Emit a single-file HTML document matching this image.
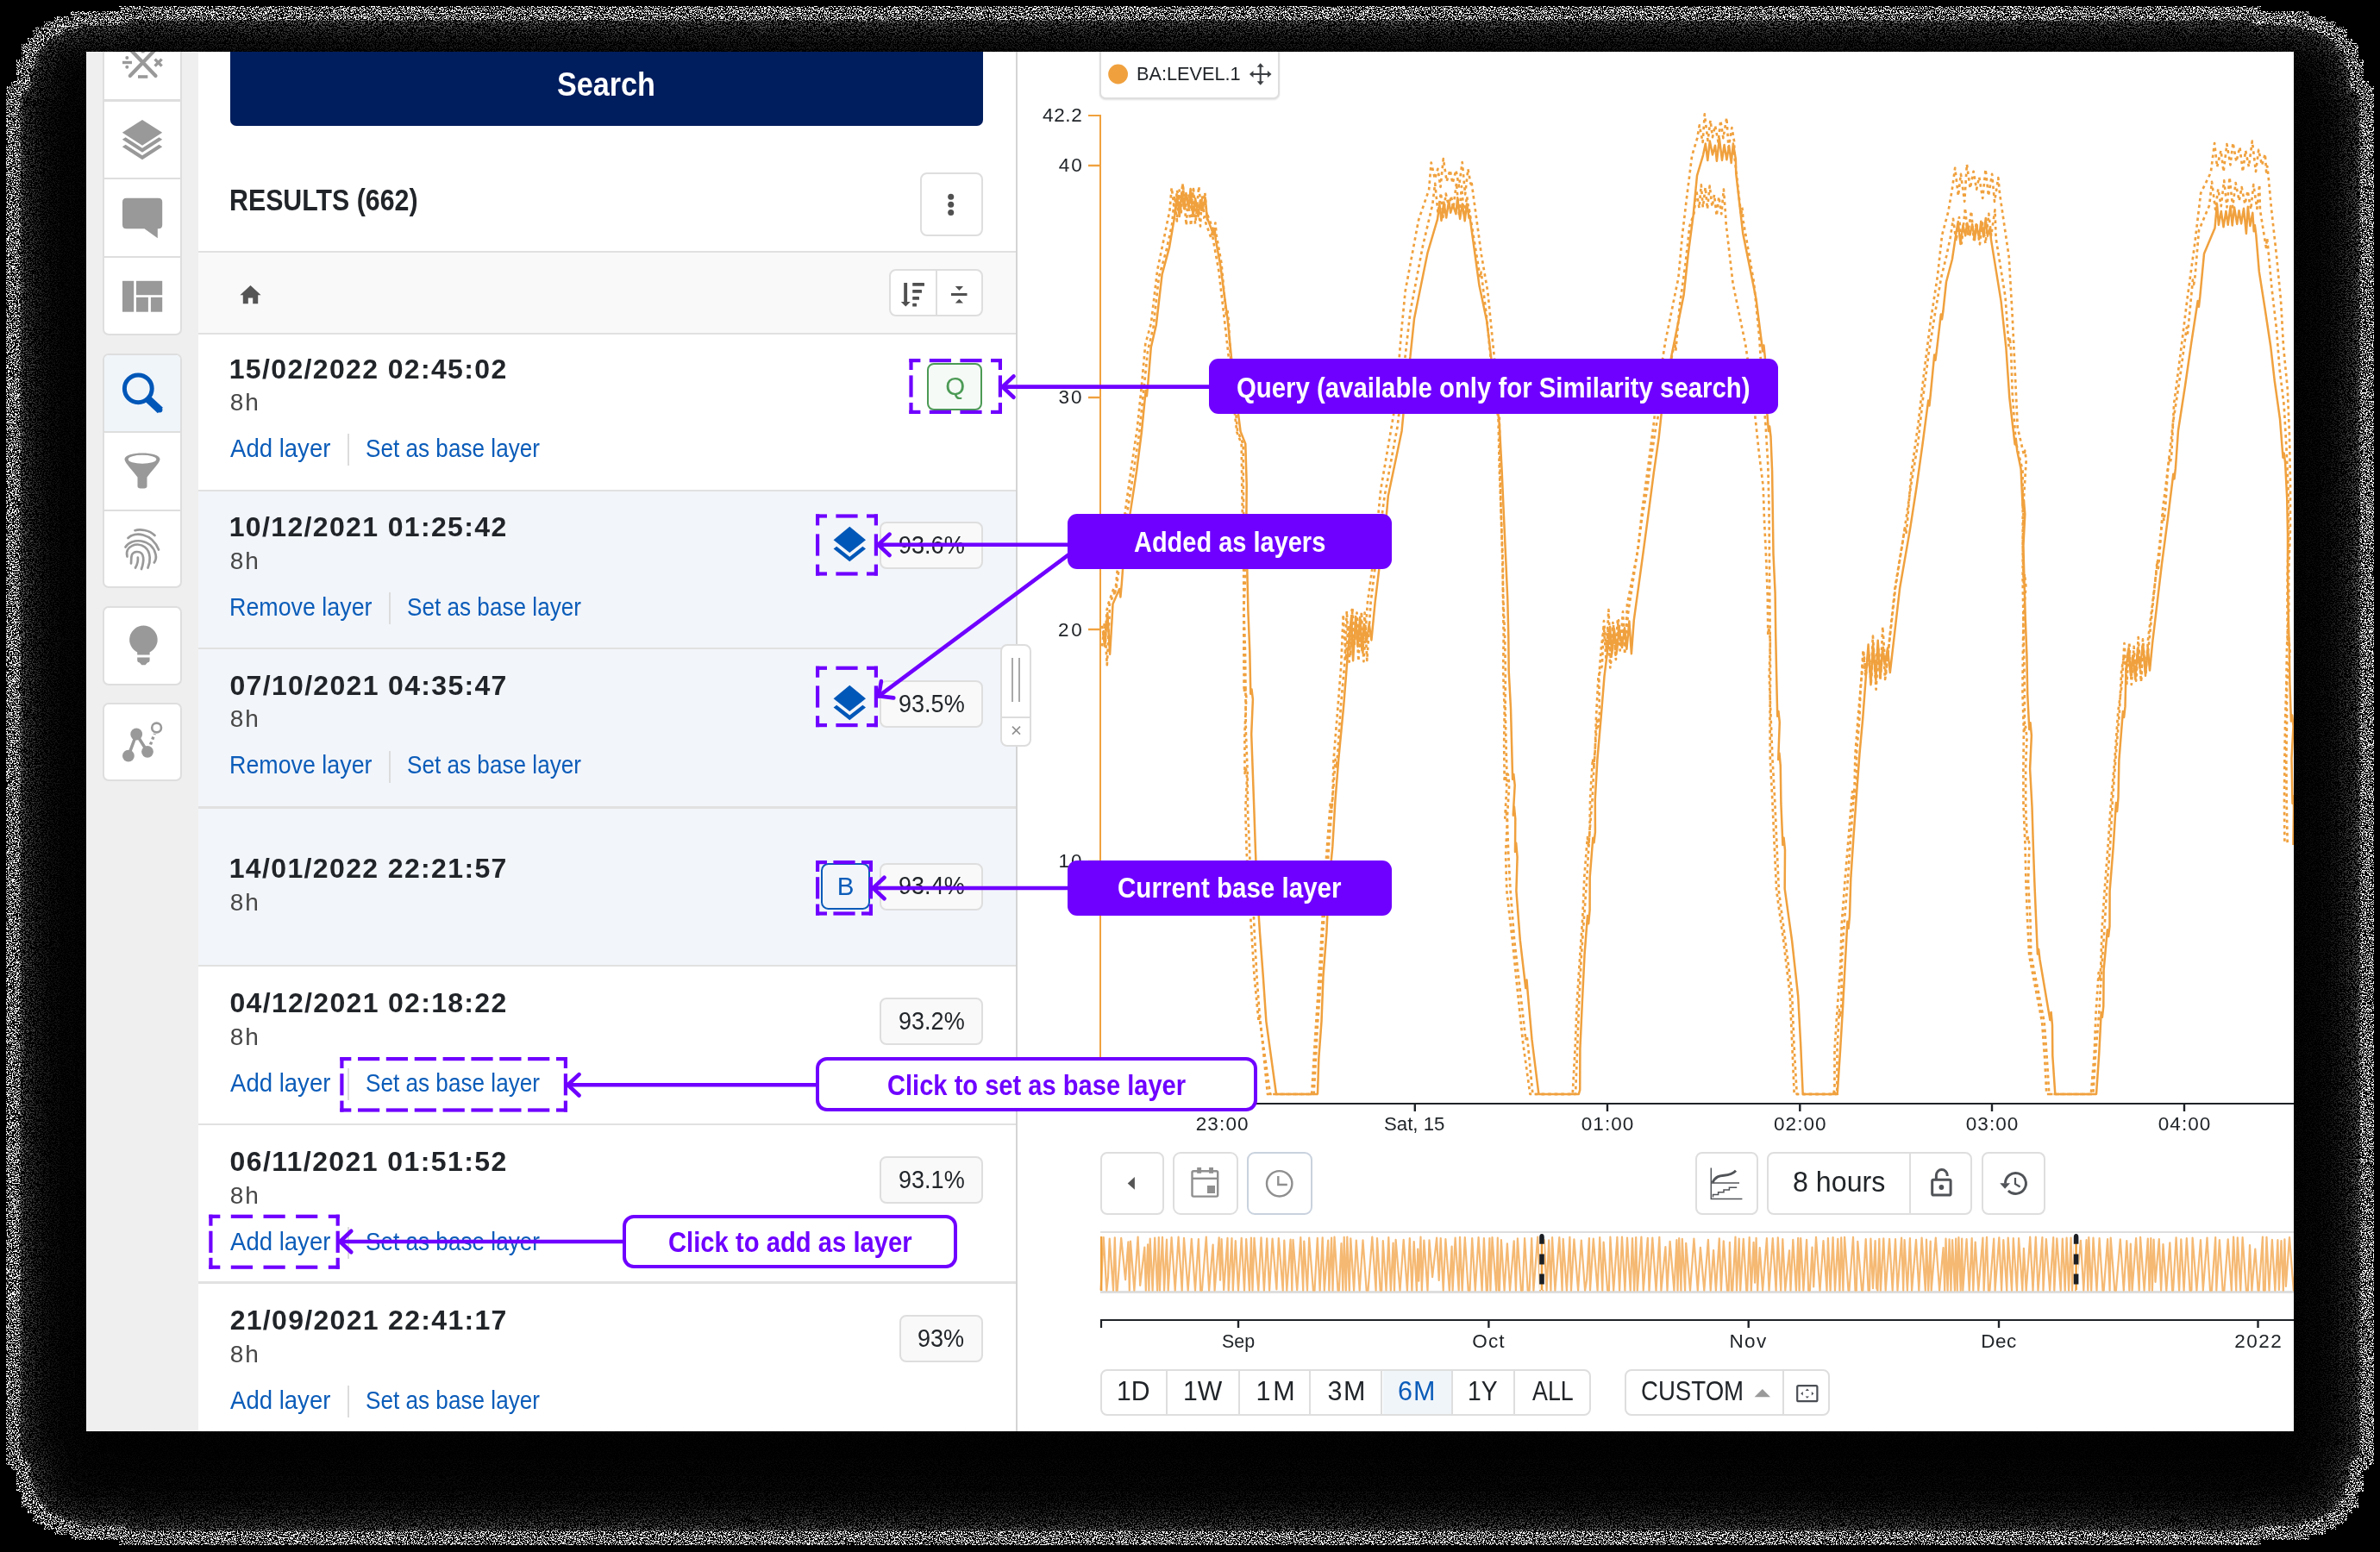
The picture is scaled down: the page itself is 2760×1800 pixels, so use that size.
<!DOCTYPE html>
<html><head><meta charset="utf-8"><title>Search results layers</title>
<style>
html,body{margin:0;padding:0;background:#000;}
body{width:2760px;height:1800px;overflow:hidden;position:relative;font-family:"Liberation Sans",sans-serif;}
#shot{position:absolute;left:100px;top:60px;width:2560px;height:1600px;overflow:hidden;background:#fff;}
#in{position:absolute;left:-100px;top:-60px;width:2760px;height:1800px;will-change:transform;}
.t{position:absolute;white-space:nowrap;line-height:1;font-family:"Liberation Sans",sans-serif;}
.b{position:absolute;box-sizing:content-box;}
svg{position:absolute;left:0;top:0;overflow:visible;}
</style></head><body>
<svg width="2760" height="1800" viewBox="0 0 2760 1800">
<defs>
<clipPath id="sc"><path d="M7 100 L13 100 L13 94 L19 94 L19 69 L25 69 L25 50 L32 50 L32 44 L38 44 L38 34 L41 34 L41 31 L51 31 L51 25 L63 25 L63 19 L82 19 L82 13 L138 13 L138 7 L2622 7 L2622 13 L2678 13 L2678 19 L2697 19 L2697 25 L2709 25 L2709 31 L2719 31 L2719 34 L2722 34 L2722 44 L2728 44 L2728 50 L2735 50 L2735 69 L2741 69 L2741 94 L2747 94 L2747 100 L2753 100 L2753 1699 L2747 1699 L2747 1705 L2741 1705 L2741 1730 L2735 1730 L2735 1749 L2728 1749 L2728 1755 L2722 1755 L2722 1765 L2719 1765 L2719 1768 L2709 1768 L2709 1774 L2697 1774 L2697 1780 L2678 1780 L2678 1786 L2622 1786 L2622 1792 L138 1792 L138 1786 L82 1786 L82 1780 L63 1780 L63 1774 L51 1774 L51 1768 L41 1768 L41 1765 L38 1765 L38 1755 L32 1755 L32 1749 L25 1749 L25 1730 L19 1730 L19 1705 L13 1705 L13 1699 L7 1699 Z"/></clipPath>
<filter id="nz" x="0" y="0" width="2760" height="1800" filterUnits="userSpaceOnUse" color-interpolation-filters="sRGB">
<feTurbulence type="fractalNoise" baseFrequency="0.618 0.72" numOctaves="3" seed="7" result="t"/>
<feColorMatrix in="t" type="matrix" values="0 0 0 0 1  0 0 0 0 1  0 0 0 0 1  40 0 0 0 -21.1" result="m"/>
<feComposite in="SourceGraphic" in2="m" operator="in"/>
</filter>
</defs>
<g filter="url(#nz)"><g clip-path="url(#sc)"><path d="M7 100 L13 100 L13 94 L19 94 L19 69 L25 69 L25 50 L32 50 L32 44 L38 44 L38 34 L41 34 L41 31 L51 31 L51 25 L63 25 L63 19 L82 19 L82 13 L138 13 L138 7 L2622 7 L2622 13 L2678 13 L2678 19 L2697 19 L2697 25 L2709 25 L2709 31 L2719 31 L2719 34 L2722 34 L2722 44 L2728 44 L2728 50 L2735 50 L2735 69 L2741 69 L2741 94 L2747 94 L2747 100 L2753 100 L2753 1699 L2747 1699 L2747 1705 L2741 1705 L2741 1730 L2735 1730 L2735 1749 L2728 1749 L2728 1755 L2722 1755 L2722 1765 L2719 1765 L2719 1768 L2709 1768 L2709 1774 L2697 1774 L2697 1780 L2678 1780 L2678 1786 L2622 1786 L2622 1792 L138 1792 L138 1786 L82 1786 L82 1780 L63 1780 L63 1774 L51 1774 L51 1768 L41 1768 L41 1765 L38 1765 L38 1755 L32 1755 L32 1749 L25 1749 L25 1730 L19 1730 L19 1705 L13 1705 L13 1699 L7 1699 Z" fill="rgb(4,4,4)"/><path d="M7 100 L13 100 L13 94 L19 94 L19 69 L25 69 L25 50 L32 50 L32 44 L38 44 L38 34 L41 34 L41 31 L51 31 L51 25 L63 25 L63 19 L82 19 L82 13 L138 13 L138 7 L2622 7 L2622 13 L2678 13 L2678 19 L2697 19 L2697 25 L2709 25 L2709 31 L2719 31 L2719 34 L2722 34 L2722 44 L2728 44 L2728 50 L2735 50 L2735 69 L2741 69 L2741 94 L2747 94 L2747 100 L2753 100 L2753 1699 L2747 1699 L2747 1705 L2741 1705 L2741 1730 L2735 1730 L2735 1749 L2728 1749 L2728 1755 L2722 1755 L2722 1765 L2719 1765 L2719 1768 L2709 1768 L2709 1774 L2697 1774 L2697 1780 L2678 1780 L2678 1786 L2622 1786 L2622 1792 L138 1792 L138 1786 L82 1786 L82 1780 L63 1780 L63 1774 L51 1774 L51 1768 L41 1768 L41 1765 L38 1765 L38 1755 L32 1755 L32 1749 L25 1749 L25 1730 L19 1730 L19 1705 L13 1705 L13 1699 L7 1699 Z" fill="none" stroke="rgb(4,4,4)" stroke-width="280" stroke-linejoin="round"/><path d="M7 100 L13 100 L13 94 L19 94 L19 69 L25 69 L25 50 L32 50 L32 44 L38 44 L38 34 L41 34 L41 31 L51 31 L51 25 L63 25 L63 19 L82 19 L82 13 L138 13 L138 7 L2622 7 L2622 13 L2678 13 L2678 19 L2697 19 L2697 25 L2709 25 L2709 31 L2719 31 L2719 34 L2722 34 L2722 44 L2728 44 L2728 50 L2735 50 L2735 69 L2741 69 L2741 94 L2747 94 L2747 100 L2753 100 L2753 1699 L2747 1699 L2747 1705 L2741 1705 L2741 1730 L2735 1730 L2735 1749 L2728 1749 L2728 1755 L2722 1755 L2722 1765 L2719 1765 L2719 1768 L2709 1768 L2709 1774 L2697 1774 L2697 1780 L2678 1780 L2678 1786 L2622 1786 L2622 1792 L138 1792 L138 1786 L82 1786 L82 1780 L63 1780 L63 1774 L51 1774 L51 1768 L41 1768 L41 1765 L38 1765 L38 1755 L32 1755 L32 1749 L25 1749 L25 1730 L19 1730 L19 1705 L13 1705 L13 1699 L7 1699 Z" fill="none" stroke="rgb(7,7,7)" stroke-width="200" stroke-linejoin="round"/><path d="M7 100 L13 100 L13 94 L19 94 L19 69 L25 69 L25 50 L32 50 L32 44 L38 44 L38 34 L41 34 L41 31 L51 31 L51 25 L63 25 L63 19 L82 19 L82 13 L138 13 L138 7 L2622 7 L2622 13 L2678 13 L2678 19 L2697 19 L2697 25 L2709 25 L2709 31 L2719 31 L2719 34 L2722 34 L2722 44 L2728 44 L2728 50 L2735 50 L2735 69 L2741 69 L2741 94 L2747 94 L2747 100 L2753 100 L2753 1699 L2747 1699 L2747 1705 L2741 1705 L2741 1730 L2735 1730 L2735 1749 L2728 1749 L2728 1755 L2722 1755 L2722 1765 L2719 1765 L2719 1768 L2709 1768 L2709 1774 L2697 1774 L2697 1780 L2678 1780 L2678 1786 L2622 1786 L2622 1792 L138 1792 L138 1786 L82 1786 L82 1780 L63 1780 L63 1774 L51 1774 L51 1768 L41 1768 L41 1765 L38 1765 L38 1755 L32 1755 L32 1749 L25 1749 L25 1730 L19 1730 L19 1705 L13 1705 L13 1699 L7 1699 Z" fill="none" stroke="rgb(10,10,10)" stroke-width="160" stroke-linejoin="round"/><path d="M7 100 L13 100 L13 94 L19 94 L19 69 L25 69 L25 50 L32 50 L32 44 L38 44 L38 34 L41 34 L41 31 L51 31 L51 25 L63 25 L63 19 L82 19 L82 13 L138 13 L138 7 L2622 7 L2622 13 L2678 13 L2678 19 L2697 19 L2697 25 L2709 25 L2709 31 L2719 31 L2719 34 L2722 34 L2722 44 L2728 44 L2728 50 L2735 50 L2735 69 L2741 69 L2741 94 L2747 94 L2747 100 L2753 100 L2753 1699 L2747 1699 L2747 1705 L2741 1705 L2741 1730 L2735 1730 L2735 1749 L2728 1749 L2728 1755 L2722 1755 L2722 1765 L2719 1765 L2719 1768 L2709 1768 L2709 1774 L2697 1774 L2697 1780 L2678 1780 L2678 1786 L2622 1786 L2622 1792 L138 1792 L138 1786 L82 1786 L82 1780 L63 1780 L63 1774 L51 1774 L51 1768 L41 1768 L41 1765 L38 1765 L38 1755 L32 1755 L32 1749 L25 1749 L25 1730 L19 1730 L19 1705 L13 1705 L13 1699 L7 1699 Z" fill="none" stroke="rgb(17,17,17)" stroke-width="124" stroke-linejoin="round"/><path d="M7 100 L13 100 L13 94 L19 94 L19 69 L25 69 L25 50 L32 50 L32 44 L38 44 L38 34 L41 34 L41 31 L51 31 L51 25 L63 25 L63 19 L82 19 L82 13 L138 13 L138 7 L2622 7 L2622 13 L2678 13 L2678 19 L2697 19 L2697 25 L2709 25 L2709 31 L2719 31 L2719 34 L2722 34 L2722 44 L2728 44 L2728 50 L2735 50 L2735 69 L2741 69 L2741 94 L2747 94 L2747 100 L2753 100 L2753 1699 L2747 1699 L2747 1705 L2741 1705 L2741 1730 L2735 1730 L2735 1749 L2728 1749 L2728 1755 L2722 1755 L2722 1765 L2719 1765 L2719 1768 L2709 1768 L2709 1774 L2697 1774 L2697 1780 L2678 1780 L2678 1786 L2622 1786 L2622 1792 L138 1792 L138 1786 L82 1786 L82 1780 L63 1780 L63 1774 L51 1774 L51 1768 L41 1768 L41 1765 L38 1765 L38 1755 L32 1755 L32 1749 L25 1749 L25 1730 L19 1730 L19 1705 L13 1705 L13 1699 L7 1699 Z" fill="none" stroke="rgb(26,26,26)" stroke-width="100" stroke-linejoin="round"/><path d="M7 100 L13 100 L13 94 L19 94 L19 69 L25 69 L25 50 L32 50 L32 44 L38 44 L38 34 L41 34 L41 31 L51 31 L51 25 L63 25 L63 19 L82 19 L82 13 L138 13 L138 7 L2622 7 L2622 13 L2678 13 L2678 19 L2697 19 L2697 25 L2709 25 L2709 31 L2719 31 L2719 34 L2722 34 L2722 44 L2728 44 L2728 50 L2735 50 L2735 69 L2741 69 L2741 94 L2747 94 L2747 100 L2753 100 L2753 1699 L2747 1699 L2747 1705 L2741 1705 L2741 1730 L2735 1730 L2735 1749 L2728 1749 L2728 1755 L2722 1755 L2722 1765 L2719 1765 L2719 1768 L2709 1768 L2709 1774 L2697 1774 L2697 1780 L2678 1780 L2678 1786 L2622 1786 L2622 1792 L138 1792 L138 1786 L82 1786 L82 1780 L63 1780 L63 1774 L51 1774 L51 1768 L41 1768 L41 1765 L38 1765 L38 1755 L32 1755 L32 1749 L25 1749 L25 1730 L19 1730 L19 1705 L13 1705 L13 1699 L7 1699 Z" fill="none" stroke="rgb(40,40,40)" stroke-width="82" stroke-linejoin="round"/><path d="M7 100 L13 100 L13 94 L19 94 L19 69 L25 69 L25 50 L32 50 L32 44 L38 44 L38 34 L41 34 L41 31 L51 31 L51 25 L63 25 L63 19 L82 19 L82 13 L138 13 L138 7 L2622 7 L2622 13 L2678 13 L2678 19 L2697 19 L2697 25 L2709 25 L2709 31 L2719 31 L2719 34 L2722 34 L2722 44 L2728 44 L2728 50 L2735 50 L2735 69 L2741 69 L2741 94 L2747 94 L2747 100 L2753 100 L2753 1699 L2747 1699 L2747 1705 L2741 1705 L2741 1730 L2735 1730 L2735 1749 L2728 1749 L2728 1755 L2722 1755 L2722 1765 L2719 1765 L2719 1768 L2709 1768 L2709 1774 L2697 1774 L2697 1780 L2678 1780 L2678 1786 L2622 1786 L2622 1792 L138 1792 L138 1786 L82 1786 L82 1780 L63 1780 L63 1774 L51 1774 L51 1768 L41 1768 L41 1765 L38 1765 L38 1755 L32 1755 L32 1749 L25 1749 L25 1730 L19 1730 L19 1705 L13 1705 L13 1699 L7 1699 Z" fill="none" stroke="rgb(56,56,56)" stroke-width="66" stroke-linejoin="round"/><path d="M7 100 L13 100 L13 94 L19 94 L19 69 L25 69 L25 50 L32 50 L32 44 L38 44 L38 34 L41 34 L41 31 L51 31 L51 25 L63 25 L63 19 L82 19 L82 13 L138 13 L138 7 L2622 7 L2622 13 L2678 13 L2678 19 L2697 19 L2697 25 L2709 25 L2709 31 L2719 31 L2719 34 L2722 34 L2722 44 L2728 44 L2728 50 L2735 50 L2735 69 L2741 69 L2741 94 L2747 94 L2747 100 L2753 100 L2753 1699 L2747 1699 L2747 1705 L2741 1705 L2741 1730 L2735 1730 L2735 1749 L2728 1749 L2728 1755 L2722 1755 L2722 1765 L2719 1765 L2719 1768 L2709 1768 L2709 1774 L2697 1774 L2697 1780 L2678 1780 L2678 1786 L2622 1786 L2622 1792 L138 1792 L138 1786 L82 1786 L82 1780 L63 1780 L63 1774 L51 1774 L51 1768 L41 1768 L41 1765 L38 1765 L38 1755 L32 1755 L32 1749 L25 1749 L25 1730 L19 1730 L19 1705 L13 1705 L13 1699 L7 1699 Z" fill="none" stroke="rgb(75,75,75)" stroke-width="52" stroke-linejoin="round"/><path d="M7 100 L13 100 L13 94 L19 94 L19 69 L25 69 L25 50 L32 50 L32 44 L38 44 L38 34 L41 34 L41 31 L51 31 L51 25 L63 25 L63 19 L82 19 L82 13 L138 13 L138 7 L2622 7 L2622 13 L2678 13 L2678 19 L2697 19 L2697 25 L2709 25 L2709 31 L2719 31 L2719 34 L2722 34 L2722 44 L2728 44 L2728 50 L2735 50 L2735 69 L2741 69 L2741 94 L2747 94 L2747 100 L2753 100 L2753 1699 L2747 1699 L2747 1705 L2741 1705 L2741 1730 L2735 1730 L2735 1749 L2728 1749 L2728 1755 L2722 1755 L2722 1765 L2719 1765 L2719 1768 L2709 1768 L2709 1774 L2697 1774 L2697 1780 L2678 1780 L2678 1786 L2622 1786 L2622 1792 L138 1792 L138 1786 L82 1786 L82 1780 L63 1780 L63 1774 L51 1774 L51 1768 L41 1768 L41 1765 L38 1765 L38 1755 L32 1755 L32 1749 L25 1749 L25 1730 L19 1730 L19 1705 L13 1705 L13 1699 L7 1699 Z" fill="none" stroke="rgb(95,95,95)" stroke-width="42" stroke-linejoin="round"/><path d="M7 100 L13 100 L13 94 L19 94 L19 69 L25 69 L25 50 L32 50 L32 44 L38 44 L38 34 L41 34 L41 31 L51 31 L51 25 L63 25 L63 19 L82 19 L82 13 L138 13 L138 7 L2622 7 L2622 13 L2678 13 L2678 19 L2697 19 L2697 25 L2709 25 L2709 31 L2719 31 L2719 34 L2722 34 L2722 44 L2728 44 L2728 50 L2735 50 L2735 69 L2741 69 L2741 94 L2747 94 L2747 100 L2753 100 L2753 1699 L2747 1699 L2747 1705 L2741 1705 L2741 1730 L2735 1730 L2735 1749 L2728 1749 L2728 1755 L2722 1755 L2722 1765 L2719 1765 L2719 1768 L2709 1768 L2709 1774 L2697 1774 L2697 1780 L2678 1780 L2678 1786 L2622 1786 L2622 1792 L138 1792 L138 1786 L82 1786 L82 1780 L63 1780 L63 1774 L51 1774 L51 1768 L41 1768 L41 1765 L38 1765 L38 1755 L32 1755 L32 1749 L25 1749 L25 1730 L19 1730 L19 1705 L13 1705 L13 1699 L7 1699 Z" fill="none" stroke="rgb(150,150,150)" stroke-width="35.0" stroke-linejoin="round"/><path d="M7 100 L13 100 L13 94 L19 94 L19 69 L25 69 L25 50 L32 50 L32 44 L38 44 L38 34 L41 34 L41 31 L51 31 L51 25 L63 25 L63 19 L82 19 L82 13 L138 13 L138 7 L2622 7 L2622 13 L2678 13 L2678 19 L2697 19 L2697 25 L2709 25 L2709 31 L2719 31 L2719 34 L2722 34 L2722 44 L2728 44 L2728 50 L2735 50 L2735 69 L2741 69 L2741 94 L2747 94 L2747 100 L2753 100 L2753 1699 L2747 1699 L2747 1705 L2741 1705 L2741 1730 L2735 1730 L2735 1749 L2728 1749 L2728 1755 L2722 1755 L2722 1765 L2719 1765 L2719 1768 L2709 1768 L2709 1774 L2697 1774 L2697 1780 L2678 1780 L2678 1786 L2622 1786 L2622 1792 L138 1792 L138 1786 L82 1786 L82 1780 L63 1780 L63 1774 L51 1774 L51 1768 L41 1768 L41 1765 L38 1765 L38 1755 L32 1755 L32 1749 L25 1749 L25 1730 L19 1730 L19 1705 L13 1705 L13 1699 L7 1699 Z" fill="none" stroke="rgb(255,255,255)" stroke-width="31.4" stroke-linejoin="round"/></g></g>
</svg>
<div id="shot"><div id="in">
<div class="b" style="left:100.0px;top:60.0px;width:130.0px;height:1600.0px;background:#efefef;"></div>
<div class="b" style="left:1177.7px;top:60.0px;width:2.2px;height:1600.0px;background:#d4d4d4;"></div>
<div class="b" style="left:118.9px;top:20.0px;width:87.7px;height:364.8px;background:#fff;border:2px solid #dedede;border-radius:7px;"></div>
<div class="b" style="left:120.5px;top:115.3px;width:88.5px;height:2.4px;background:#dedede;"></div>
<div class="b" style="left:120.5px;top:205.8px;width:88.5px;height:2.4px;background:#dedede;"></div>
<div class="b" style="left:120.5px;top:296.5px;width:88.5px;height:2.4px;background:#dedede;"></div>
<div class="b" style="left:118.9px;top:409.8px;width:87.7px;height:268.6px;background:#fff;border:2px solid #dedede;border-radius:7px;"></div>
<div class="b" style="left:120.9px;top:411.8px;width:87.7px;height:88.0px;background:#f0f5fa;border-radius:5px 5px 0 0;"></div>
<div class="b" style="left:120.5px;top:499.6px;width:88.5px;height:2.4px;background:#dedede;"></div>
<div class="b" style="left:120.5px;top:590.5px;width:88.5px;height:2.4px;background:#dedede;"></div>
<div class="b" style="left:118.9px;top:703.0px;width:87.7px;height:87.6px;background:#fff;border:2px solid #dedede;border-radius:7px;"></div>
<div class="b" style="left:118.9px;top:815.0px;width:87.7px;height:87.2px;background:#fff;border:2px solid #dedede;border-radius:7px;"></div>
<div class="b" style="left:267.0px;top:20.0px;width:873.0px;height:126.0px;background:#001d5d;border-radius:7px;"></div>
<span class="t" style="left:646.15px;top:78.49px;font-size:39px;color:#fff;font-weight:bold;transform:scaleX(0.8757);transform-origin:0 0;">Search</span>
<span class="t" style="left:265.53px;top:214.80px;font-size:34.5px;color:#212529;font-weight:bold;transform:scaleX(0.8790);transform-origin:0 0;">RESULTS (662)</span>
<div class="b" style="left:1066.5px;top:200.3px;width:69.5px;height:69.3px;background:#fff;border:2px solid #dedede;border-radius:8px;"></div>
<div class="b" style="left:230.0px;top:290.5px;width:947.7px;height:2.5px;background:#e1e1e1;"></div>
<div class="b" style="left:230.0px;top:293.0px;width:947.7px;height:92.8px;background:#f9f9f9;"></div>
<div class="b" style="left:230.0px;top:385.8px;width:947.7px;height:2.5px;background:#e1e1e1;"></div>
<div class="b" style="left:1031.2px;top:311.8px;width:104.5px;height:51.0px;background:#fff;border:2px solid #dedede;border-radius:8px;"></div>
<div class="b" style="left:1084.5px;top:313.0px;width:2.3px;height:52.6px;background:#dedede;"></div>
<div class="b" style="left:230.0px;top:570.0px;width:947.7px;height:549.0px;background:#f2f5fa;"></div>
<div class="b" style="left:230.0px;top:567.5px;width:947.7px;height:2.6px;background:#e1e1e1;"></div>
<div class="b" style="left:230.0px;top:750.7px;width:947.7px;height:2.6px;background:#e1e1e1;"></div>
<div class="b" style="left:230.0px;top:935.0px;width:947.7px;height:2.6px;background:#e1e1e1;"></div>
<div class="b" style="left:230.0px;top:1118.7px;width:947.7px;height:2.6px;background:#e1e1e1;"></div>
<div class="b" style="left:230.0px;top:1302.5px;width:947.7px;height:2.6px;background:#e1e1e1;"></div>
<div class="b" style="left:230.0px;top:1486.4px;width:947.7px;height:2.6px;background:#e1e1e1;"></div>
<span class="t" style="left:265.68px;top:411.61px;font-size:32px;color:#212529;font-weight:bold;letter-spacing:1.357px;">15/02/2022 02:45:02</span>
<span class="t" style="left:266.68px;top:453.20px;font-size:28px;color:#474747;letter-spacing:1.920px;">8h</span>
<span class="t" style="left:267.30px;top:506.35px;font-size:29px;color:#0b5cb9;transform:scaleX(0.9501);transform-origin:0 0;">Add layer</span>
<div class="b" style="left:402.6px;top:503.4px;width:2.2px;height:37.0px;background:#dcdcdc;"></div>
<span class="t" style="left:423.62px;top:506.35px;font-size:29px;color:#0b5cb9;transform:scaleX(0.9014);transform-origin:0 0;">Set as base layer</span>
<span class="t" style="left:265.68px;top:595.11px;font-size:32px;color:#212529;font-weight:bold;letter-spacing:1.357px;">10/12/2021 01:25:42</span>
<span class="t" style="left:266.68px;top:636.70px;font-size:28px;color:#474747;letter-spacing:1.920px;">8h</span>
<span class="t" style="left:266.35px;top:689.85px;font-size:29px;color:#0b5cb9;transform:scaleX(0.9252);transform-origin:0 0;">Remove layer</span>
<div class="b" style="left:451.3px;top:686.9px;width:2.2px;height:37.0px;background:#dcdcdc;"></div>
<span class="t" style="left:472.02px;top:689.85px;font-size:29px;color:#0b5cb9;transform:scaleX(0.9014);transform-origin:0 0;">Set as base layer</span>
<div class="b" style="left:1019.6px;top:605.3px;width:116.0px;height:51.2px;background:#f9f9f9;border:2px solid #dedede;border-radius:8px;"></div>
<span class="t" style="left:1041.53px;top:617.95px;font-size:29px;color:#212529;transform:scaleX(0.9325);transform-origin:0 0;">93.6%</span>
<span class="t" style="left:266.48px;top:778.71px;font-size:32px;color:#212529;font-weight:bold;letter-spacing:1.321px;">07/10/2021 04:35:47</span>
<span class="t" style="left:266.68px;top:820.30px;font-size:28px;color:#474747;letter-spacing:1.920px;">8h</span>
<span class="t" style="left:266.35px;top:873.45px;font-size:29px;color:#0b5cb9;transform:scaleX(0.9252);transform-origin:0 0;">Remove layer</span>
<div class="b" style="left:451.3px;top:870.5px;width:2.2px;height:37.0px;background:#dcdcdc;"></div>
<span class="t" style="left:472.02px;top:873.45px;font-size:29px;color:#0b5cb9;transform:scaleX(0.9014);transform-origin:0 0;">Set as base layer</span>
<div class="b" style="left:1019.6px;top:788.9px;width:116.0px;height:51.2px;background:#f9f9f9;border:2px solid #dedede;border-radius:8px;"></div>
<span class="t" style="left:1041.53px;top:801.55px;font-size:29px;color:#212529;transform:scaleX(0.9325);transform-origin:0 0;">93.5%</span>
<span class="t" style="left:265.68px;top:991.31px;font-size:32px;color:#212529;font-weight:bold;letter-spacing:1.366px;">14/01/2022 22:21:57</span>
<span class="t" style="left:266.68px;top:1032.90px;font-size:28px;color:#474747;letter-spacing:1.920px;">8h</span>
<div class="b" style="left:1019.6px;top:1000.6px;width:116.0px;height:51.2px;background:#f9f9f9;border:2px solid #dedede;border-radius:8px;"></div>
<span class="t" style="left:1041.53px;top:1013.25px;font-size:29px;color:#212529;transform:scaleX(0.9325);transform-origin:0 0;">93.4%</span>
<span class="t" style="left:266.48px;top:1147.11px;font-size:32px;color:#212529;font-weight:bold;letter-spacing:1.312px;">04/12/2021 02:18:22</span>
<span class="t" style="left:266.68px;top:1188.70px;font-size:28px;color:#474747;letter-spacing:1.920px;">8h</span>
<span class="t" style="left:267.30px;top:1241.85px;font-size:29px;color:#0b5cb9;transform:scaleX(0.9501);transform-origin:0 0;">Add layer</span>
<div class="b" style="left:402.6px;top:1238.9px;width:2.2px;height:37.0px;background:#dcdcdc;"></div>
<span class="t" style="left:423.62px;top:1241.85px;font-size:29px;color:#0b5cb9;transform:scaleX(0.9014);transform-origin:0 0;">Set as base layer</span>
<div class="b" style="left:1019.6px;top:1157.3px;width:116.0px;height:51.2px;background:#f9f9f9;border:2px solid #dedede;border-radius:8px;"></div>
<span class="t" style="left:1041.53px;top:1169.95px;font-size:29px;color:#212529;transform:scaleX(0.9325);transform-origin:0 0;">93.2%</span>
<span class="t" style="left:266.48px;top:1331.11px;font-size:32px;color:#212529;font-weight:bold;letter-spacing:1.410px;">06/11/2021 01:51:52</span>
<span class="t" style="left:266.68px;top:1372.70px;font-size:28px;color:#474747;letter-spacing:1.920px;">8h</span>
<span class="t" style="left:267.30px;top:1425.85px;font-size:29px;color:#0b5cb9;transform:scaleX(0.9501);transform-origin:0 0;">Add layer</span>
<div class="b" style="left:402.6px;top:1422.9px;width:2.2px;height:37.0px;background:#dcdcdc;"></div>
<span class="t" style="left:423.62px;top:1425.85px;font-size:29px;color:#0b5cb9;transform:scaleX(0.9014);transform-origin:0 0;">Set as base layer</span>
<div class="b" style="left:1019.6px;top:1341.3px;width:116.0px;height:51.2px;background:#f9f9f9;border:2px solid #dedede;border-radius:8px;"></div>
<span class="t" style="left:1041.53px;top:1353.95px;font-size:29px;color:#212529;transform:scaleX(0.9325);transform-origin:0 0;">93.1%</span>
<span class="t" style="left:266.64px;top:1515.11px;font-size:32px;color:#212529;font-weight:bold;letter-spacing:1.312px;">21/09/2021 22:41:17</span>
<span class="t" style="left:266.68px;top:1556.70px;font-size:28px;color:#474747;letter-spacing:1.920px;">8h</span>
<span class="t" style="left:267.30px;top:1609.85px;font-size:29px;color:#0b5cb9;transform:scaleX(0.9501);transform-origin:0 0;">Add layer</span>
<div class="b" style="left:402.6px;top:1606.9px;width:2.2px;height:37.0px;background:#dcdcdc;"></div>
<span class="t" style="left:423.62px;top:1609.85px;font-size:29px;color:#0b5cb9;transform:scaleX(0.9014);transform-origin:0 0;">Set as base layer</span>
<div class="b" style="left:1043.0px;top:1525.3px;width:92.6px;height:51.2px;background:#f9f9f9;border:2px solid #dedede;border-radius:8px;"></div>
<span class="t" style="left:1064.08px;top:1537.95px;font-size:29px;color:#212529;transform:scaleX(0.9339);transform-origin:0 0;">93%</span>
<div class="b" style="left:1075.0px;top:420.8px;width:60.1px;height:51.2px;background:#f5faf6;border:2.3px solid #4c9a55;border-radius:8px;"></div>
<span class="t" style="left:1096.37px;top:432.63px;font-size:29.5px;color:#4c9a55;">Q</span>
<div class="b" style="left:952.0px;top:1001.0px;width:52.8px;height:50.4px;background:#f2f5fa;border:2.2px solid #0b5cb9;border-radius:8.5px;"></div>
<span class="t" style="left:970.75px;top:1013.33px;font-size:29.5px;color:#0b5cb9;">B</span>
<div class="b" style="left:1160.0px;top:747.2px;width:31.6px;height:115.2px;background:#fff;border:2.2px solid #dddddd;border-radius:8px;"></div>
<div class="b" style="left:1162.0px;top:830.6px;width:32.0px;height:2.4px;background:#dddddd;"></div>
<div class="b" style="left:1173.0px;top:763.0px;width:2.3px;height:50.5px;background:#a9a9a9;"></div>
<div class="b" style="left:1180.6px;top:763.0px;width:2.3px;height:50.5px;background:#a9a9a9;"></div>
<svg width="2760" height="1800" viewBox="0 0 2760 1800"><g stroke="#999999" stroke-width="4.2" stroke-linecap="round" fill="none"><path d="M150.8 88 L180.5 57 M180.5 88 L150.8 57"/></g><g fill="#999999"><rect x="160" y="87.2" width="11.3" height="3.6"/><rect x="164" y="57" width="3.6" height="4.4"/><rect x="142" y="70.8" width="11" height="3.4"/><circle cx="147.3" cy="67" r="2"/><circle cx="147.3" cy="77.8" r="2"/></g><g stroke="#999999" stroke-width="3.4" fill="none"><path d="M179.6 68.6 L187.6 76.6 M187.6 68.6 L179.6 76.6"/></g><g fill="#999999"><path d="M165 138.9 L188.2 153.8 L165 168.8 L141.8 153.8 Z"/><path d="M141.8 161.8 L145.6 159.3 L165 171.8 L184.4 159.3 L188.2 161.8 L165 176.8 Z"/><path d="M141.8 170.3 L145.6 167.8 L165 180.3 L184.4 167.8 L188.2 170.3 L165 185.3 Z"/></g><path fill="#999999" d="M146.5 229.8 H183.7 Q188.2 229.8 188.2 234.3 V260.8 Q188.2 265.3 183.7 265.3 H182.8 V276.3 L167.5 265.3 H146.5 Q142 265.3 142 260.8 V234.3 Q142 229.8 146.5 229.8 Z"/><g fill="#999999"><rect x="142" y="325.8" width="13.2" height="35.9"/><rect x="158" y="325.8" width="30.2" height="16.4"/><rect x="158" y="344.8" width="13.9" height="16.9"/><rect x="174.9" y="344.8" width="13.3" height="16.9"/></g><circle cx="160.3" cy="450.8" r="15.9" fill="none" stroke="#0057b8" stroke-width="5"/><path d="M170.6 461.8 L185.9 475.9" stroke="#0057b8" stroke-width="8.8" stroke-linecap="butt"/><circle cx="185.2" cy="475.2" r="3.2" fill="#0057b8"/><path fill="#999999" d="M144.5 532.6 C144.5 523 185.5 523 185.5 532.6 C185.5 536 181 540.5 170.5 553.4 V564 Q170.5 566.6 165 566.6 Q159.5 566.6 159.5 564 V553.4 C149 540.5 144.5 536 144.5 532.6 Z"/><ellipse cx="165" cy="532.8" rx="16.3" ry="5" fill="#fff"/><g fill="none" stroke="#999999" stroke-width="2.7" stroke-linecap="round"><path d="M156.5 615.2 C162 613.5 173 614.5 179.5 621"/><path d="M148.5 624 C156 616.5 176 617.5 184 637.5"/><path d="M145.5 634.5 C152 623.5 176 624 180.5 643 C181.5 647 180.5 650 178.8 652.5"/><path d="M147.5 645.5 C144 633 160 628 168 634.5 C175.5 640.5 174.5 652 171.5 658.5"/><path d="M152 653.5 C152.5 647 151 640.5 158.5 640 C168.5 639.5 167 651.5 164 660"/><path d="M159.8 646.5 C160.5 651 159 655 157 658.5"/></g><path fill="#999999" d="M166.4 725.6 A16.3 16.3 0 0 1 173.6 756.5 V759.6 H159.2 V756.5 A16.3 16.3 0 0 1 166.4 725.6 Z"/><path fill="#999999" d="M159.2 762.6 H173.6 V766 Q173.6 768 171 768.6 L168.5 771.3 H164.3 L161.8 768.6 Q159.2 768 159.2 766 Z"/><g stroke="#999999" stroke-width="3.6" fill="none"><path d="M148.9 876.7 L158.2 851.5 L171 871.8"/><path d="M174.5 863.5 L179.3 851" stroke-dasharray="3.2 3" stroke-width="3.4"/></g><g fill="#999999"><circle cx="158.2" cy="851.5" r="6.9"/><circle cx="148.9" cy="876.7" r="6.9"/><circle cx="171" cy="871.8" r="6.9"/></g><circle cx="181.6" cy="844" r="5.4" fill="#fff" stroke="#999999" stroke-width="2.6"/><path fill="#555" d="M290.5 331 L302.6 342.2 H299.2 V352.2 H293.2 V345.4 H287.8 V352.2 H281.8 V342.2 H278.4 Z"/><g fill="#505050"><circle cx="1102.7" cy="228.2" r="3.5"/><circle cx="1102.7" cy="237.3" r="3.5"/><circle cx="1102.7" cy="246.6" r="3.5"/></g><g fill="#505050"><rect x="1048.2" y="328" width="3.9" height="23"/><path d="M1044.8 350 H1055.8 L1050.3 355.6 Z"/><rect x="1058.2" y="328" width="13.8" height="3.8" rx=".6"/><rect x="1058.2" y="336" width="10.8" height="3.8" rx=".6"/><rect x="1058.2" y="344" width="7.8" height="3.8" rx=".6"/><rect x="1058.2" y="351.8" width="4.8" height="3.8" rx=".6"/><path d="M1107.8 332 H1117 L1112.4 336.9 Z"/><rect x="1103" y="340" width="18.5" height="3"/><path d="M1107.8 351.6 H1117 L1112.4 346.7 Z"/></g><g fill="#0057b8"><path d="M985.3 610.8 L1004 626.3 L985.3 641.0 L966.6 626.3 Z"/><path d="M966.6 636.5999999999999 L970.2 633.8 L985.3 645.6999999999999 L1000.4 633.8 L1004 636.5999999999999 L985.3 651.3 Z"/></g><g fill="#0057b8"><path d="M985.3 794.7 L1004 810.2 L985.3 824.9000000000001 L966.6 810.2 Z"/><path d="M966.6 820.5 L970.2 817.7 L985.3 829.6 L1000.4 817.7 L1004 820.5 L985.3 835.2 Z"/></g><path d="M1174 842.6 L1183 851.6 M1183 842.6 L1174 851.6" stroke="#909090" stroke-width="1.6" fill="none"/></svg>
<div class="b" style="left:1276.0px;top:1428.0px;width:1384.0px;height:2.0px;background:#dedede;"></div>
<div class="b" style="left:1276.0px;top:1497.3px;width:1384.0px;height:2.3px;background:#dedede;"></div>
<div class="b" style="left:1275.0px;top:40.0px;width:205.0px;height:70.8px;background:#fff;border:2px solid #dedede;border-radius:7px;box-shadow:0 1px 2px rgba(0,0,0,.12);"></div>
<div class="b" style="left:1276.3px;top:1336.3px;width:69.4px;height:69.1px;background:#fff;border:2px solid #dedede;border-radius:8px;"></div>
<div class="b" style="left:1359.9px;top:1336.3px;width:71.9px;height:69.1px;background:#fff;border:2px solid #dedede;border-radius:9px;"></div>
<div class="b" style="left:1446.0px;top:1336.3px;width:72.0px;height:69.1px;background:#fff;border:2px solid #c9d2de;border-radius:9px;"></div>
<div class="b" style="left:1965.5px;top:1336.3px;width:69.0px;height:69.1px;background:#fff;border:2px solid #dedede;border-radius:8px;"></div>
<div class="b" style="left:2049.0px;top:1336.3px;width:234.4px;height:69.1px;background:#fff;border:2px solid #dedede;border-radius:8px;"></div>
<div class="b" style="left:2213.7px;top:1337.0px;width:2.3px;height:71.6px;background:#dedede;"></div>
<div class="b" style="left:2298.3px;top:1336.3px;width:69.7px;height:69.1px;background:#fff;border:2px solid #dedede;border-radius:8px;"></div>
<div class="b" style="left:1276.3px;top:1587.5px;width:564.9px;height:50.5px;background:#fff;border:2px solid #dedede;border-radius:8px;"></div>
<div class="b" style="left:1603.5px;top:1589.5px;width:79.5px;height:50.5px;background:#f0f5fa;"></div>
<div class="b" style="left:1352.3px;top:1589.0px;width:2.2px;height:51.4px;background:#dedede;"></div>
<div class="b" style="left:1436.1px;top:1589.0px;width:2.2px;height:51.4px;background:#dedede;"></div>
<div class="b" style="left:1517.9px;top:1589.0px;width:2.2px;height:51.4px;background:#dedede;"></div>
<div class="b" style="left:1601.3px;top:1589.0px;width:2.2px;height:51.4px;background:#dedede;"></div>
<div class="b" style="left:1682.9px;top:1589.0px;width:2.2px;height:51.4px;background:#dedede;"></div>
<div class="b" style="left:1754.9px;top:1589.0px;width:2.2px;height:51.4px;background:#dedede;"></div>
<div class="b" style="left:1883.8px;top:1587.5px;width:234.4px;height:50.5px;background:#fff;border:2px solid #dedede;border-radius:8px;"></div>
<div class="b" style="left:2067.0px;top:1589.0px;width:2.3px;height:51.4px;background:#dedede;"></div>
<svg width="2760" height="1800" viewBox="0 0 2760 1800"><path d="M1262 134 H1276 V1279" stroke="#f0a13e" stroke-width="2" fill="none"/><path d="M1262 192 H1276" stroke="#f0a13e" stroke-width="2.4" fill="none"/><path d="M1262 461 H1276" stroke="#f0a13e" stroke-width="2.4" fill="none"/><path d="M1262 730 H1276" stroke="#f0a13e" stroke-width="2.4" fill="none"/><path d="M1262 999 H1276" stroke="#f0a13e" stroke-width="2.4" fill="none"/><path d="M1276 1280 H2660" stroke="#1f2328" stroke-width="2.2" fill="none"/><path d="M1640.8 1280 V1289" stroke="#1f2328" stroke-width="2.4" fill="none"/><path d="M1864 1280 V1289" stroke="#1f2328" stroke-width="2.4" fill="none"/><path d="M2087.3 1280 V1289" stroke="#1f2328" stroke-width="2.4" fill="none"/><path d="M2310 1280 V1289" stroke="#1f2328" stroke-width="2.4" fill="none"/><path d="M2533 1280 V1289" stroke="#1f2328" stroke-width="2.4" fill="none"/><g fill="none" stroke="#f0a13e" stroke-linejoin="round"><path d="M1278.1 725.7 L1281.5 747.2 L1283.5 708.0 L1284.7 701.9 L1291.5 682.5 L1292.7 690.6 L1294.1 679.2 L1298.1 635.2 L1299.3 643.0 L1300.7 630.0 L1305.0 591.8 L1311.7 544.4 L1318.7 497.4 L1323.6 450.6 L1328.3 399.0 L1334.9 374.9 L1342.1 313.6 L1348.9 281.0 L1356.5 243.8 L1358.7 217.7 L1362.6 247.1 L1365.0 220.5 L1369.0 242.6 L1371.3 212.6 L1374.5 241.7 L1378.3 225.2 L1381.2 241.1 L1384.0 219.1 L1387.1 251.2 L1390.2 216.3 L1393.4 246.4 L1397.3 223.3 L1399.8 253.6 L1399.6 247.5 L1408.2 269.4 L1409.4 258.5 L1410.8 273.5 L1416.4 305.0 L1422.1 366.9 L1423.3 358.4 L1424.7 371.1 L1426.8 411.7 L1431.2 456.6 L1435.1 499.8 L1441.7 515.1 L1441.8 561.0 L1442.3 609.8 L1441.7 659.9 L1442.9 654.7 L1444.3 667.7 L1442.3 706.6 L1442.4 757.1 L1442.7 802.7 L1443.9 796.3 L1445.3 808.5 L1443.4 851.0 L1443.5 896.9 L1444.7 890.3 L1446.1 902.1 L1444.3 939.0 L1445.6 986.7 L1448.3 1033.6 L1451.5 1083.4 L1454.5 1131.5 L1459.6 1184.8 L1460.8 1176.0 L1462.2 1190.2 L1470.0 1269.0 L1472.0 1269.0 L1521.5 1269.0 L1521.2 1269.0 L1523.8 1224.8 L1526.3 1185.6 L1529.6 1134.5 L1532.6 1083.4 L1535.4 1031.7 L1539.0 981.6 L1542.8 931.0 L1544.0 939.8 L1545.4 923.0 L1546.5 881.5 L1551.5 819.9 L1555.2 772.8 L1557.7 712.8 L1560.8 765.2 L1563.6 725.1 L1566.1 761.1 L1568.4 705.5 L1571.0 746.9 L1573.5 710.5 L1576.8 749.6 L1578.9 709.6 L1581.4 767.2 L1585.9 698.7 L1594.3 637.9 L1601.2 567.8 L1616.0 481.6 L1621.0 436.2 L1625.0 385.7 L1629.7 337.5 L1645.0 255.5 L1657.1 220.0 L1659.7 188.6 L1664.0 207.5 L1667.4 195.8 L1670.5 216.8 L1673.8 184.2 L1677.7 210.3 L1681.6 197.2 L1684.5 212.5 L1688.5 197.4 L1692.0 216.5 L1695.7 188.1 L1699.1 225.4 L1702.4 196.1 L1705.5 213.3 L1706.3 209.9 L1717.8 294.9 L1725.3 338.5 L1732.0 405.8 L1738.6 472.4 L1739.4 532.4 L1740.7 595.3 L1742.8 653.5 L1743.0 694.1 L1743.7 737.3 L1743.2 779.5 L1744.7 822.8 L1744.2 864.3 L1744.7 906.8 L1745.9 899.1 L1747.3 912.5 L1745.3 948.6 L1746.5 938.8 L1747.9 951.9 L1746.1 991.0 L1747.3 1033.2 L1753.7 1089.1 L1759.6 1146.8 L1766.1 1209.3 L1774.4 1269.0 L1824.0 1269.0 L1823.7 1269.0 L1826.6 1215.9 L1828.8 1161.9 L1832.2 1109.4 L1835.3 1063.8 L1837.3 1017.1 L1840.9 971.2 L1842.1 982.0 L1843.5 965.6 L1844.1 925.2 L1847.0 880.0 L1848.2 888.2 L1849.6 874.9 L1850.9 834.5 L1853.5 785.2 L1857.8 772.2 L1860.0 720.0 L1863.1 754.5 L1865.4 707.0 L1868.1 768.7 L1871.0 724.9 L1873.9 765.0 L1877.0 719.4 L1879.9 748.4 L1882.4 724.3 L1884.9 751.0 L1887.9 712.3 L1899.4 636.3 L1904.7 588.8 L1910.9 544.0 L1917.0 497.2 L1922.6 451.1 L1931.1 397.1 L1946.4 322.1 L1950.9 273.0 L1956.3 227.0 L1962.1 180.7 L1968.2 160.4 L1970.8 145.3 L1974.6 165.0 L1976.8 132.4 L1980.5 163.0 L1983.5 139.6 L1986.0 159.1 L1989.0 145.8 L1992.6 164.8 L1995.3 139.8 L1998.4 160.2 L2002.3 136.5 L2004.5 171.3 L2008.4 148.1 L2011.3 165.3 L2011.0 177.3 L2019.1 249.7 L2020.3 240.5 L2021.7 256.9 L2033.9 327.3 L2040.4 393.2 L2043.3 442.2 L2047.5 491.9 L2050.3 539.8 L2051.5 590.3 L2051.9 640.2 L2052.2 690.0 L2052.7 738.3 L2053.0 785.5 L2052.5 833.1 L2052.8 879.9 L2055.5 931.2 L2057.8 983.1 L2060.1 1032.6 L2068.4 1092.4 L2075.8 1154.5 L2078.2 1209.4 L2080.7 1269.0 L2125.0 1269.0 L2124.9 1268.0 L2126.1 1269.0 L2127.5 1263.1 L2127.5 1217.6 L2130.7 1169.7 L2134.2 1120.0 L2135.8 1071.2 L2139.6 1020.4 L2144.0 967.3 L2148.0 918.0 L2149.2 928.7 L2150.6 912.9 L2151.4 875.1 L2154.8 831.1 L2158.5 788.2 L2160.6 754.2 L2163.5 784.8 L2167.0 755.5 L2169.9 786.2 L2171.9 737.5 L2175.6 799.6 L2178.4 752.9 L2180.8 782.5 L2183.3 726.8 L2186.8 782.6 L2197.4 682.9 L2209.3 610.9 L2210.5 619.6 L2211.9 605.6 L2216.2 550.5 L2224.4 492.3 L2231.0 434.0 L2238.6 374.2 L2246.9 320.3 L2252.1 272.8 L2259.2 246.1 L2263.7 220.4 L2267.2 194.8 L2270.9 227.2 L2273.9 201.8 L2278.2 233.7 L2280.9 190.5 L2284.7 218.4 L2288.6 198.8 L2292.1 219.6 L2295.2 205.4 L2299.2 230.0 L2302.6 196.3 L2306.0 227.2 L2310.1 201.8 L2313.0 233.9 L2317.3 206.2 L2319.0 224.5 L2329.7 298.1 L2333.5 363.0 L2336.6 428.0 L2339.7 495.5 L2347.1 528.0 L2348.3 522.5 L2349.7 533.8 L2346.8 579.9 L2345.8 631.4 L2345.7 675.4 L2346.5 718.8 L2345.9 759.5 L2345.5 803.5 L2346.9 847.7 L2346.4 892.5 L2346.5 933.5 L2348.5 979.5 L2349.4 1020.6 L2351.0 1064.2 L2353.2 1108.3 L2368.1 1185.3 L2371.2 1227.5 L2373.3 1269.0 L2425.0 1269.0 L2425.0 1267.1 L2428.7 1221.9 L2430.5 1175.4 L2433.7 1128.0 L2434.9 1137.4 L2436.3 1120.5 L2437.5 1077.7 L2440.6 1033.0 L2444.6 980.2 L2447.9 931.7 L2452.3 881.9 L2456.3 825.1 L2460.5 795.3 L2463.5 746.0 L2466.4 792.9 L2469.3 744.7 L2471.8 794.0 L2474.6 749.9 L2477.1 789.7 L2479.6 750.9 L2483.2 787.4 L2485.1 750.7 L2488.2 775.4 L2491.5 751.3 L2501.7 650.2 L2502.9 659.1 L2504.3 643.4 L2507.9 591.6 L2515.6 531.5 L2516.8 537.2 L2518.2 527.6 L2521.1 468.3 L2528.9 408.1 L2536.7 345.1 L2545.1 283.5 L2552.2 223.9 L2563.8 200.2 L2568.1 166.0 L2571.1 193.7 L2575.5 174.5 L2578.6 199.3 L2582.4 167.2 L2586.5 191.3 L2589.5 165.6 L2593.4 187.5 L2597.4 170.7 L2600.9 199.3 L2604.1 174.6 L2607.9 193.4 L2611.8 163.6 L2616.0 199.0 L2619.2 173.8 L2623.1 191.6 L2626.8 178.6 L2628.1 199.4 L2629.3 192.8 L2630.7 206.0 L2633.9 240.9 L2640.1 297.5 L2645.0 348.1 L2648.0 401.7 L2652.7 450.0 L2655.0 505.2 L2656.0 561.3 L2655.9 614.8 L2654.1 663.6 L2654.3 706.1 L2652.0 750.3 L2651.4 794.0 L2650.1 836.4 L2649.4 881.2 L2649.0 929.2 L2649.4 979.2" stroke-width="2.7" stroke-dasharray="3.6 4"/><path d="M1278.2 749.5 L1280.9 722.3 L1283.8 771.1 L1286.7 710.2 L1286.6 700.9 L1294.6 681.7 L1300.8 636.8 L1307.8 590.8 L1314.7 546.3 L1321.2 502.7 L1326.1 454.4 L1331.0 407.0 L1337.5 379.7 L1343.9 321.3 L1352.5 290.7 L1359.2 259.8 L1362.1 227.0 L1364.9 256.3 L1367.6 220.5 L1369.6 248.4 L1372.1 217.0 L1375.7 261.4 L1377.7 231.9 L1381.2 261.8 L1383.7 219.9 L1386.0 259.7 L1389.0 235.3 L1392.0 262.4 L1393.8 227.1 L1396.9 250.7 L1396.3 252.9 L1404.5 276.0 L1405.7 270.0 L1407.1 279.2 L1413.5 315.1 L1420.4 374.8 L1425.1 416.1 L1429.7 459.7 L1434.3 501.0 L1439.7 514.7 L1440.3 565.6 L1441.1 611.4 L1442.2 661.1 L1442.4 706.3 L1444.0 756.4 L1444.5 805.8 L1444.8 848.5 L1446.6 893.9 L1447.0 939.5 L1449.1 984.6 L1450.3 1031.9 L1451.5 1025.0 L1452.9 1036.5 L1454.7 1081.1 L1457.6 1134.2 L1461.3 1185.7 L1473.0 1269.0 L1475.0 1269.0 L1524.0 1269.0 L1523.6 1269.0 L1525.9 1227.0 L1528.2 1183.6 L1531.9 1134.3 L1534.2 1081.0 L1537.9 1033.2 L1541.1 979.8 L1545.0 931.7 L1548.6 880.9 L1549.8 890.8 L1551.2 874.4 L1554.8 820.2 L1559.5 768.0 L1561.8 708.7 L1564.6 767.7 L1567.7 707.2 L1569.5 752.6 L1573.1 723.6 L1575.4 766.8 L1577.5 722.8 L1580.4 756.9 L1582.6 710.7 L1585.3 766.0 L1589.6 698.9 L1597.1 638.4 L1605.6 575.6 L1620.6 494.7 L1625.6 450.7 L1630.1 408.7 L1635.4 361.9 L1649.9 285.6 L1661.2 237.5 L1664.2 212.8 L1667.5 247.1 L1671.0 223.7 L1673.5 251.9 L1676.7 224.6 L1680.2 239.9 L1682.8 227.2 L1685.3 241.3 L1689.0 212.0 L1692.2 250.7 L1695.0 216.0 L1697.8 250.6 L1701.2 227.6 L1704.2 252.3 L1703.4 240.6 L1716.5 322.0 L1717.7 315.5 L1719.1 327.7 L1723.6 364.3 L1729.8 426.1 L1737.6 487.0 L1738.7 541.8 L1740.8 596.3 L1742.3 651.0 L1743.3 695.0 L1745.1 736.8 L1745.8 777.1 L1745.6 819.8 L1746.5 862.2 L1747.6 905.5 L1748.8 898.0 L1750.2 909.6 L1747.8 949.2 L1749.2 989.2 L1751.4 1030.2 L1756.1 1090.0 L1762.4 1144.9 L1769.4 1206.5 L1770.6 1201.0 L1772.0 1212.5 L1777.4 1269.0 L1826.5 1269.0 L1827.1 1269.0 L1829.2 1214.7 L1831.1 1162.8 L1833.8 1109.8 L1837.1 1062.2 L1840.3 1018.7 L1843.0 970.3 L1846.7 925.0 L1848.8 881.4 L1852.3 832.6 L1853.5 843.2 L1854.9 827.8 L1854.3 784.3 L1856.9 751.5 L1859.9 726.5 L1862.6 765.6 L1864.8 730.0 L1867.3 774.5 L1870.4 722.1 L1873.5 759.6 L1875.9 718.7 L1878.7 754.5 L1882.0 709.4 L1884.2 758.9 L1887.0 700.8 L1899.4 638.3 L1904.1 600.6 L1910.2 567.3 L1914.9 529.9 L1920.4 494.7 L1929.2 451.5 L1930.4 461.1 L1931.8 448.2 L1942.1 396.7 L1943.3 407.1 L1944.7 390.4 L1947.9 354.4 L1954.5 306.6 L1959.4 262.1 L1964.5 247.3 L1967.2 220.6 L1970.5 241.3 L1972.8 214.4 L1974.8 240.5 L1977.7 217.3 L1980.0 242.4 L1982.7 215.6 L1985.5 239.8 L1988.0 226.0 L1990.7 250.3 L1993.3 228.2 L1996.3 248.2 L1998.9 219.6 L2001.1 249.4 L2001.6 259.1 L2009.6 328.8 L2024.3 400.3 L2031.4 449.7 L2035.7 486.0 L2039.8 524.8 L2044.7 564.0 L2045.9 601.5 L2047.9 642.1 L2049.8 690.8 L2050.3 736.4 L2051.5 727.3 L2052.9 743.0 L2051.7 784.1 L2053.5 830.4 L2055.4 878.8 L2058.3 930.0 L2060.6 982.8 L2062.9 1033.8 L2070.8 1094.3 L2078.2 1153.0 L2080.4 1210.5 L2083.7 1269.0 L2127.5 1269.0 L2127.8 1267.3 L2129.0 1269.0 L2130.4 1263.8 L2130.5 1218.5 L2132.9 1171.0 L2134.1 1179.7 L2135.5 1165.1 L2135.7 1118.1 L2138.7 1070.3 L2142.9 1020.1 L2146.2 969.6 L2150.4 917.1 L2151.6 925.1 L2153.0 913.4 L2153.0 874.0 L2156.4 832.9 L2157.6 798.1 L2161.3 757.0 L2163.4 778.4 L2166.5 759.6 L2169.8 791.8 L2172.3 752.1 L2174.6 774.7 L2177.6 749.1 L2180.4 788.7 L2183.7 749.7 L2186.1 787.9 L2198.2 680.9 L2208.7 614.2 L2215.8 565.1 L2224.4 512.5 L2230.1 461.0 L2236.7 409.3 L2244.2 362.3 L2251.1 322.1 L2257.2 297.0 L2261.8 275.2 L2265.0 253.8 L2268.5 279.8 L2272.0 252.0 L2274.8 282.4 L2279.0 241.3 L2281.8 273.3 L2286.0 244.9 L2288.9 277.8 L2292.0 257.9 L2295.9 283.4 L2299.1 258.7 L2302.5 282.4 L2306.3 247.8 L2309.1 273.2 L2313.5 243.4 L2314.6 276.1 L2325.5 344.1 L2329.5 401.0 L2330.7 391.3 L2332.1 407.2 L2333.7 456.1 L2337.6 512.1 L2345.5 545.5 L2345.8 588.2 L2345.7 630.7 L2346.7 675.8 L2347.9 665.7 L2349.3 679.8 L2346.3 719.7 L2347.2 761.6 L2347.8 805.0 L2347.9 847.9 L2349.1 842.8 L2350.5 855.7 L2349.1 889.4 L2349.2 935.6 L2350.8 976.2 L2352.0 971.0 L2353.4 979.5 L2352.0 1022.5 L2354.5 1065.3 L2355.2 1106.6 L2370.7 1185.6 L2373.7 1226.8 L2376.3 1269.0 L2427.5 1269.0 L2427.3 1269.0 L2430.3 1219.7 L2434.3 1174.5 L2437.1 1125.2 L2440.2 1080.5 L2443.2 1031.3 L2446.9 982.2 L2449.8 930.3 L2453.3 881.1 L2457.8 826.9 L2460.2 777.9 L2463.4 759.4 L2465.9 779.0 L2468.6 751.7 L2471.8 783.2 L2474.2 757.1 L2477.2 783.6 L2479.7 739.2 L2482.9 790.7 L2485.0 741.4 L2488.3 782.3 L2491.2 740.0 L2502.0 652.8 L2508.3 596.2 L2509.5 604.1 L2510.9 591.2 L2514.0 543.7 L2520.1 489.4 L2528.7 433.0 L2535.8 379.8 L2537.0 386.7 L2538.4 371.9 L2542.9 324.7 L2544.1 329.9 L2545.5 320.8 L2550.0 267.1 L2562.2 238.0 L2565.0 210.8 L2569.1 242.9 L2572.3 219.2 L2575.7 239.1 L2579.2 209.4 L2582.5 240.4 L2585.6 205.7 L2589.2 240.3 L2592.6 212.0 L2596.7 232.9 L2599.6 217.1 L2603.4 236.7 L2606.6 221.3 L2610.2 243.0 L2613.3 214.2 L2617.4 242.0 L2620.2 214.3 L2620.9 243.1 L2627.9 287.0 L2629.1 276.1 L2630.5 290.6 L2634.4 333.6 L2640.0 381.7 L2643.4 426.4 L2648.7 470.3 L2651.5 520.2 L2653.6 569.2 L2654.0 615.9 L2652.7 664.4 L2652.5 706.5 L2653.0 747.8 L2654.2 739.5 L2655.6 754.9 L2652.0 794.3 L2652.0 836.1 L2651.3 879.1 L2651.7 930.6 L2652.7 979.6" stroke-width="2.7" stroke-dasharray="3.6 4"/><path d="M1278.9 732.2 L1281.2 749.6 L1284.3 711.1 L1287.1 758.8 L1289.7 716.0 L1290.5 700.5 L1298.2 683.0 L1299.4 692.5 L1300.8 677.0 L1303.8 635.7 L1311.3 590.9 L1318.1 546.4 L1323.9 501.2 L1328.7 453.0 L1329.9 459.3 L1331.3 445.2 L1334.8 402.7 L1340.8 377.0 L1347.6 318.3 L1355.9 287.7 L1362.2 250.9 L1365.1 228.0 L1367.8 251.1 L1370.4 223.4 L1373.2 242.1 L1375.4 223.9 L1378.6 240.8 L1380.6 219.1 L1383.6 250.7 L1386.2 230.4 L1389.5 250.9 L1392.0 232.3 L1394.8 242.3 L1397.7 229.2 L1400.0 254.8 L1399.7 252.0 L1407.3 272.4 L1408.5 265.0 L1409.9 278.5 L1415.4 308.6 L1423.6 370.3 L1427.9 413.5 L1433.1 457.6 L1438.6 500.5 L1444.3 514.7 L1445.7 562.4 L1445.3 611.5 L1446.3 659.8 L1447.4 708.2 L1449.3 755.7 L1450.3 804.8 L1451.5 799.5 L1452.9 811.2 L1451.2 851.5 L1452.8 895.6 L1454.4 940.1 L1455.9 985.6 L1457.7 1030.1 L1461.0 1081.9 L1464.8 1132.3 L1468.4 1184.8 L1480.0 1269.0 L1482.0 1269.0 L1527.5 1269.0 L1528.0 1268.3 L1529.3 1227.9 L1532.5 1184.6 L1534.5 1132.2 L1538.4 1081.4 L1540.7 1030.7 L1545.3 981.9 L1548.4 929.2 L1552.4 879.1 L1558.2 818.7 L1563.5 751.5 L1567.0 716.4 L1569.1 766.3 L1572.2 714.9 L1574.6 750.0 L1577.2 715.7 L1579.4 754.4 L1581.9 723.9 L1584.9 744.2 L1587.7 723.6 L1590.4 742.4 L1594.6 698.8 L1601.9 638.6 L1603.1 648.1 L1604.5 634.7 L1609.8 575.2 L1625.6 499.7 L1629.7 456.4 L1635.4 413.9 L1640.0 369.8 L1655.4 293.7 L1666.9 254.7 L1669.4 237.2 L1671.5 255.9 L1674.4 234.6 L1677.2 252.5 L1680.2 232.8 L1682.2 246.7 L1684.9 237.5 L1688.4 248.1 L1690.2 229.3 L1693.1 253.9 L1695.8 236.4 L1698.7 256.2 L1701.0 236.4 L1703.6 252.9 L1704.3 250.2 L1715.5 331.3 L1724.0 371.4 L1731.4 432.7 L1738.8 491.5 L1741.6 545.0 L1743.9 597.6 L1746.3 650.3 L1748.3 695.7 L1749.3 738.0 L1749.7 778.5 L1752.0 821.5 L1753.1 863.8 L1754.1 903.7 L1755.3 897.9 L1756.7 910.6 L1754.7 945.7 L1755.9 935.4 L1757.3 949.6 L1757.0 987.9 L1758.2 977.8 L1759.6 994.2 L1758.4 1033.3 L1762.8 1090.2 L1769.3 1146.0 L1770.5 1136.6 L1771.9 1153.7 L1776.5 1205.7 L1784.4 1269.0 L1830.0 1269.0 L1829.6 1269.0 L1830.8 1269.0 L1832.2 1264.2 L1832.4 1216.3 L1834.9 1161.3 L1837.6 1106.3 L1841.0 1062.1 L1842.2 1071.2 L1843.6 1055.3 L1843.7 1017.5 L1847.3 971.8 L1848.5 977.3 L1849.9 965.0 L1849.8 927.3 L1852.4 880.9 L1856.7 831.5 L1860.5 784.3 L1864.2 754.3 L1867.1 726.8 L1869.3 758.6 L1871.9 729.3 L1875.0 755.3 L1877.8 729.0 L1881.0 751.0 L1884.0 728.2 L1886.4 752.8 L1889.4 720.6 L1891.9 758.2 L1894.8 719.1 L1905.9 638.4 L1911.7 595.1 L1917.8 548.4 L1923.7 507.6 L1928.7 460.8 L1929.9 470.0 L1931.3 453.5 L1938.0 414.6 L1952.6 342.3 L1957.7 294.8 L1963.7 249.2 L1968.0 203.7 L1975.0 180.1 L1977.8 166.6 L1980.3 186.1 L1982.8 163.6 L1986.0 179.5 L1989.0 168.7 L1990.9 186.8 L1993.9 160.6 L1997.0 185.9 L1999.6 168.0 L2002.4 185.2 L2005.1 168.9 L2007.7 189.0 L2009.9 166.6 L2012.9 184.7 L2013.2 200.9 L2021.2 270.7 L2036.5 346.7 L2044.2 407.5 L2045.4 400.5 L2046.8 414.1 L2047.5 454.9 L2050.9 499.9 L2052.1 494.5 L2053.5 506.5 L2055.1 546.6 L2055.8 592.8 L2056.5 642.6 L2058.6 687.9 L2059.2 736.0 L2060.2 785.5 L2061.2 830.7 L2062.4 825.0 L2063.8 837.6 L2062.2 880.9 L2063.4 873.4 L2064.8 887.6 L2065.4 931.9 L2067.4 979.9 L2068.6 971.8 L2070.0 985.8 L2069.7 1030.8 L2078.1 1091.0 L2085.2 1155.5 L2088.2 1211.7 L2090.7 1269.0 L2131.0 1269.0 L2130.7 1269.0 L2134.0 1219.2 L2137.1 1167.5 L2139.6 1119.7 L2142.4 1068.8 L2143.6 1076.8 L2145.0 1062.5 L2146.3 1019.1 L2149.5 970.2 L2153.2 918.5 L2156.5 873.9 L2160.2 833.7 L2163.3 792.0 L2166.6 747.6 L2169.5 794.2 L2172.0 747.5 L2175.4 789.4 L2177.7 742.7 L2180.5 786.1 L2182.9 755.0 L2185.9 770.4 L2189.0 751.6 L2191.8 780.1 L2203.2 681.7 L2215.0 613.9 L2222.8 563.2 L2229.6 514.5 L2236.2 464.4 L2237.4 470.6 L2238.8 457.5 L2243.2 411.6 L2244.4 417.8 L2245.8 407.7 L2250.8 364.6 L2252.0 370.3 L2253.4 360.8 L2257.0 327.0 L2263.9 300.8 L2268.4 270.9 L2270.7 257.0 L2273.5 283.1 L2276.4 261.3 L2279.2 273.4 L2281.3 258.7 L2284.5 272.5 L2287.2 260.1 L2290.0 278.3 L2291.9 260.3 L2295.1 276.3 L2297.3 256.7 L2300.3 274.6 L2302.8 252.9 L2304.9 274.0 L2307.7 264.6 L2309.0 278.1 L2320.6 349.6 L2326.4 403.6 L2330.3 461.1 L2336.6 515.4 L2337.8 508.7 L2339.2 522.7 L2343.6 544.1 L2345.7 589.4 L2346.9 579.9 L2348.3 596.1 L2346.4 633.1 L2347.5 674.3 L2348.8 719.0 L2350.4 759.6 L2351.2 804.8 L2353.3 846.0 L2354.5 838.2 L2355.9 852.8 L2354.1 891.6 L2356.5 935.7 L2357.8 979.2 L2359.3 1022.1 L2361.0 1062.9 L2362.9 1106.4 L2364.1 1100.9 L2365.5 1112.7 L2377.4 1183.0 L2378.6 1174.1 L2380.0 1188.9 L2380.3 1224.5 L2383.3 1269.0 L2431.0 1269.0 L2431.1 1267.9 L2434.2 1222.7 L2436.7 1174.3 L2437.9 1179.8 L2439.3 1167.2 L2439.6 1125.3 L2443.9 1078.2 L2445.1 1086.0 L2446.5 1074.1 L2446.6 1033.3 L2450.7 982.4 L2453.9 931.1 L2455.1 941.1 L2456.5 925.1 L2457.4 881.3 L2461.9 824.9 L2463.1 831.9 L2464.5 819.4 L2465.5 776.1 L2468.1 753.4 L2471.0 783.6 L2473.5 760.2 L2476.3 787.8 L2478.8 755.8 L2481.6 775.0 L2485.0 747.2 L2488.0 783.8 L2490.7 750.9 L2493.0 777.6 L2496.2 744.8 L2507.0 653.8 L2514.0 601.0 L2520.3 549.8 L2521.5 555.4 L2522.9 543.2 L2526.0 499.2 L2534.0 447.5 L2541.1 398.4 L2548.7 349.0 L2549.9 355.8 L2551.3 343.9 L2556.0 294.3 L2568.5 264.4 L2571.0 236.5 L2572.9 260.9 L2575.8 245.0 L2578.5 263.3 L2581.4 244.9 L2583.7 260.8 L2586.6 239.0 L2588.7 261.5 L2591.1 240.4 L2594.2 259.9 L2596.5 244.2 L2599.1 259.4 L2602.0 241.8 L2604.9 271.0 L2606.8 239.8 L2609.4 262.0 L2612.3 246.8 L2613.7 268.2 L2614.9 261.3 L2616.3 272.4 L2619.8 314.9 L2626.2 355.5 L2633.2 401.7 L2637.8 442.0 L2644.0 486.2 L2647.5 530.7 L2648.7 525.6 L2650.1 536.9 L2652.2 577.6 L2653.0 620.1 L2653.0 663.3 L2653.5 705.0 L2654.8 751.7 L2655.4 792.6 L2656.9 836.4 L2658.1 829.5 L2659.5 842.0 L2657.5 879.6 L2658.5 931.7 L2659.7 923.3 L2660.0 937.5 L2659.4 980.0" stroke-width="2.5"/></g><path d="M1276.5 1496.6 L1279.8 1435.2 L1283.3 1496.6 L1285.0 1481.3 L1286.7 1436.7 L1291.0 1496.6 L1292.8 1435.3 L1294.6 1496.6 L1295.7 1496.6 L1300.2 1435.9 L1305.1 1484.1 L1308.4 1440.3 L1309.8 1496.6 L1311.0 1439.6 L1315.4 1496.6 L1319.6 1434.5 L1322.2 1490.9 L1327.3 1446.7 L1328.8 1496.6 L1331.1 1443.4 L1332.4 1496.6 L1333.7 1436.7 L1336.6 1496.6 L1339.2 1435.6 L1342.1 1496.6 L1343.8 1435.1 L1344.9 1496.6 L1348.0 1434.8 L1350.1 1496.6 L1353.0 1437.6 L1354.7 1496.6 L1358.6 1435.0 L1362.7 1496.6 L1366.6 1434.7 L1370.7 1496.6 L1373.0 1435.8 L1377.7 1496.6 L1381.8 1436.9 L1386.0 1496.6 L1389.9 1437.1 L1392.2 1496.6 L1393.9 1496.6 L1398.8 1434.6 L1402.1 1496.6 L1406.6 1443.5 L1408.6 1496.6 L1413.7 1435.3 L1415.0 1484.6 L1416.6 1437.0 L1419.2 1496.1 L1423.5 1435.9 L1424.7 1496.6 L1428.5 1436.2 L1429.8 1496.6 L1432.8 1439.0 L1436.0 1496.6 L1439.7 1435.8 L1443.0 1496.6 L1445.2 1437.1 L1448.9 1496.6 L1450.9 1435.5 L1452.5 1496.6 L1454.5 1435.8 L1459.3 1496.6 L1462.5 1435.4 L1465.9 1496.6 L1469.2 1436.4 L1472.1 1496.6 L1475.6 1436.5 L1480.4 1495.4 L1482.8 1436.1 L1487.7 1496.6 L1489.3 1438.7 L1492.3 1496.6 L1496.6 1437.5 L1498.3 1496.6 L1499.5 1437.9 L1504.2 1496.1 L1508.3 1435.0 L1511.2 1496.6 L1512.3 1439.6 L1516.0 1496.6 L1518.2 1435.7 L1522.9 1496.6 L1524.5 1496.6 L1527.8 1435.9 L1530.6 1496.6 L1533.7 1435.4 L1535.8 1496.6 L1540.2 1438.6 L1541.3 1496.6 L1544.1 1435.7 L1545.5 1496.6 L1547.5 1434.7 L1551.5 1496.6 L1552.8 1496.6 L1555.5 1442.0 L1557.3 1496.6 L1558.7 1434.9 L1560.8 1496.6 L1562.3 1434.6 L1564.8 1496.6 L1566.3 1436.3 L1570.1 1496.6 L1572.8 1438.5 L1576.7 1496.6 L1580.5 1438.3 L1584.7 1496.6 L1586.5 1496.6 L1591.3 1434.7 L1595.6 1496.6 L1597.0 1436.1 L1600.7 1496.6 L1602.2 1496.6 L1603.8 1439.1 L1607.5 1496.6 L1610.3 1435.2 L1612.8 1496.6 L1615.6 1441.7 L1617.0 1496.6 L1618.6 1437.8 L1623.5 1496.6 L1627.7 1437.8 L1631.9 1496.6 L1634.8 1436.1 L1637.4 1496.6 L1639.7 1440.0 L1642.9 1496.6 L1644.2 1448.5 L1645.3 1485.6 L1647.5 1434.7 L1648.8 1496.6 L1651.4 1438.6 L1655.5 1496.6 L1657.5 1438.3 L1661.1 1481.2 L1666.1 1435.5 L1668.7 1484.9 L1670.7 1436.1 L1673.7 1496.6 L1676.4 1437.1 L1680.8 1496.6 L1683.6 1445.7 L1684.6 1496.6 L1687.6 1435.7 L1691.7 1496.6 L1693.0 1434.9 L1695.7 1496.6 L1698.8 1435.1 L1702.7 1496.6 L1704.5 1496.6 L1707.2 1436.1 L1710.8 1496.6 L1714.6 1435.1 L1718.6 1496.6 L1720.9 1436.1 L1723.8 1496.6 L1724.8 1496.6 L1727.4 1436.0 L1728.4 1496.6 L1730.5 1435.2 L1735.2 1496.6 L1736.8 1435.7 L1738.0 1496.6 L1738.9 1496.6 L1740.9 1438.1 L1744.6 1496.6 L1747.9 1442.4 L1751.0 1496.6 L1755.7 1439.3 L1757.9 1496.6 L1759.9 1436.3 L1764.0 1496.6 L1765.7 1496.6 L1768.1 1436.2 L1771.7 1496.6 L1773.6 1496.6 L1776.2 1436.1 L1778.4 1496.6 L1783.2 1434.5 L1786.1 1496.6 L1788.0 1435.9 L1789.3 1496.6 L1790.8 1438.2 L1793.6 1496.6 L1796.2 1438.3 L1798.4 1496.6 L1800.1 1435.2 L1803.4 1496.6 L1808.3 1435.0 L1811.6 1496.6 L1812.7 1436.8 L1816.9 1496.6 L1820.4 1434.8 L1822.0 1496.6 L1825.4 1437.4 L1830.1 1496.6 L1833.8 1438.5 L1838.1 1496.6 L1840.1 1484.6 L1842.9 1436.0 L1844.0 1496.4 L1847.8 1436.5 L1852.6 1496.6 L1855.2 1435.1 L1858.3 1496.6 L1859.6 1440.7 L1864.2 1496.6 L1865.9 1496.6 L1867.4 1434.7 L1871.2 1496.6 L1875.4 1434.9 L1878.1 1496.6 L1881.0 1434.7 L1884.4 1496.6 L1887.0 1435.6 L1890.7 1496.6 L1893.0 1436.0 L1895.2 1496.6 L1897.2 1435.1 L1898.8 1496.6 L1903.4 1434.5 L1905.7 1496.6 L1910.8 1435.8 L1912.5 1496.6 L1916.3 1435.5 L1920.5 1496.6 L1924.3 1434.9 L1926.4 1496.6 L1931.4 1446.2 L1933.5 1496.6 L1936.6 1439.8 L1941.4 1496.6 L1944.4 1438.2 L1945.5 1496.6 L1947.2 1436.2 L1949.4 1496.6 L1950.8 1436.9 L1954.1 1496.6 L1955.2 1441.8 L1960.0 1496.6 L1964.4 1436.5 L1968.8 1496.6 L1971.9 1446.9 L1976.3 1496.6 L1980.9 1437.8 L1983.7 1496.6 L1987.1 1450.1 L1989.9 1496.6 L1993.8 1436.4 L1995.9 1496.6 L1998.8 1439.3 L2003.0 1496.6 L2004.6 1496.6 L2005.9 1440.8 L2008.0 1496.6 L2009.2 1496.6 L2012.5 1434.6 L2014.0 1496.6 L2016.7 1436.5 L2018.2 1496.6 L2021.8 1436.9 L2025.3 1496.6 L2026.2 1496.6 L2028.7 1435.2 L2030.8 1496.6 L2033.6 1440.9 L2035.1 1487.7 L2036.6 1435.9 L2038.2 1496.6 L2040.7 1447.0 L2044.1 1496.6 L2048.9 1436.1 L2051.5 1496.6 L2055.8 1436.2 L2059.6 1496.6 L2061.8 1435.3 L2065.2 1496.6 L2067.3 1437.2 L2070.3 1496.6 L2075.0 1450.3 L2076.5 1496.6 L2079.3 1437.8 L2082.9 1496.6 L2085.2 1435.9 L2086.6 1496.6 L2088.2 1436.1 L2091.4 1496.6 L2095.1 1437.8 L2097.2 1496.6 L2098.9 1496.6 L2101.5 1446.7 L2103.2 1492.5 L2106.0 1434.8 L2110.5 1496.6 L2114.5 1439.1 L2118.5 1496.6 L2119.9 1436.1 L2122.6 1496.6 L2125.6 1435.0 L2128.0 1496.6 L2131.3 1436.8 L2133.4 1496.6 L2135.2 1435.4 L2137.4 1496.6 L2139.1 1434.9 L2143.5 1496.6 L2144.5 1496.6 L2149.0 1434.8 L2151.5 1496.6 L2152.8 1496.6 L2154.3 1439.9 L2159.1 1496.6 L2160.3 1496.6 L2163.7 1437.1 L2166.6 1496.6 L2168.0 1496.6 L2169.4 1436.5 L2172.0 1494.1 L2174.6 1439.0 L2176.2 1494.1 L2177.4 1496.6 L2179.3 1436.9 L2180.9 1496.6 L2184.3 1436.3 L2186.7 1496.6 L2191.1 1436.9 L2194.7 1496.6 L2198.0 1437.2 L2200.5 1496.6 L2205.1 1435.6 L2207.2 1496.6 L2208.6 1438.0 L2211.9 1496.6 L2214.9 1436.2 L2217.1 1496.6 L2222.0 1437.8 L2225.3 1496.6 L2228.6 1435.6 L2232.8 1496.6 L2234.0 1437.7 L2236.2 1496.6 L2238.7 1439.6 L2239.7 1496.6 L2244.8 1435.5 L2249.1 1496.6 L2253.6 1447.0 L2255.2 1496.6 L2256.5 1436.6 L2258.6 1496.6 L2260.6 1437.3 L2262.4 1496.6 L2264.1 1438.2 L2266.9 1496.6 L2268.2 1436.5 L2269.7 1496.6 L2271.4 1435.2 L2273.7 1496.6 L2275.2 1436.5 L2276.3 1496.6 L2280.6 1437.2 L2283.7 1496.6 L2286.7 1436.1 L2288.3 1496.6 L2290.7 1440.5 L2294.3 1496.6 L2299.4 1435.6 L2300.6 1496.6 L2304.0 1434.8 L2305.9 1496.6 L2307.4 1496.6 L2312.2 1436.6 L2313.6 1496.6 L2318.3 1435.4 L2321.1 1496.6 L2323.3 1438.1 L2327.2 1496.6 L2328.7 1435.5 L2333.0 1496.6 L2334.8 1436.2 L2338.9 1496.6 L2341.1 1436.2 L2345.3 1496.6 L2346.9 1447.9 L2349.7 1496.6 L2354.2 1434.6 L2357.5 1496.6 L2360.8 1434.7 L2363.5 1496.6 L2368.4 1435.1 L2369.5 1496.6 L2372.9 1437.1 L2377.1 1496.6 L2381.2 1435.2 L2382.3 1496.6 L2385.3 1436.4 L2389.7 1496.6 L2391.8 1436.6 L2394.7 1496.6 L2396.6 1435.7 L2399.1 1496.6 L2401.6 1435.5 L2403.1 1496.6 L2405.9 1442.3 L2407.0 1496.6 L2408.4 1484.8 L2412.9 1438.9 L2416.3 1496.6 L2419.6 1438.2 L2421.3 1496.6 L2422.3 1435.2 L2425.2 1496.6 L2427.5 1435.7 L2431.5 1496.6 L2434.6 1436.0 L2438.5 1496.6 L2439.7 1496.6 L2444.1 1437.2 L2446.6 1496.6 L2447.7 1435.7 L2452.3 1496.6 L2453.9 1496.6 L2458.8 1437.3 L2462.8 1496.6 L2466.3 1439.0 L2469.4 1496.6 L2470.8 1442.6 L2472.6 1496.6 L2477.1 1436.0 L2480.7 1496.6 L2482.1 1434.8 L2486.6 1496.6 L2490.8 1436.5 L2492.5 1496.6 L2494.3 1436.1 L2495.9 1496.6 L2497.6 1437.5 L2499.5 1486.8 L2503.8 1437.1 L2506.1 1496.6 L2508.5 1443.1 L2512.3 1496.6 L2516.3 1441.3 L2519.1 1496.6 L2520.1 1496.6 L2523.6 1435.3 L2527.1 1496.6 L2529.3 1437.3 L2532.6 1496.6 L2535.8 1436.2 L2539.6 1496.6 L2541.4 1496.6 L2542.6 1435.6 L2547.4 1496.6 L2552.0 1438.2 L2554.8 1496.6 L2559.5 1435.5 L2563.0 1496.6 L2564.9 1496.6 L2569.2 1435.1 L2570.3 1496.6 L2573.9 1438.1 L2577.6 1496.6 L2579.4 1496.6 L2583.7 1437.4 L2587.8 1496.6 L2590.1 1434.6 L2593.2 1496.6 L2594.8 1435.4 L2598.3 1496.6 L2600.6 1435.2 L2604.9 1496.6 L2606.9 1496.6 L2609.0 1444.1 L2611.4 1496.6 L2615.3 1448.6 L2618.6 1496.6 L2619.6 1496.6 L2623.9 1434.6 L2624.9 1496.6 L2626.7 1496.6 L2628.5 1434.8 L2631.5 1496.6 L2634.9 1437.8 L2638.3 1496.6 L2641.4 1438.2 L2642.9 1496.0 L2645.5 1439.0 L2647.8 1496.6 L2649.4 1437.4 L2650.9 1492.0 L2655.0 1435.1 L2659.8 1496.6 L2664.4 1434.8" fill="none" stroke="#f5b973" stroke-width="2.2" stroke-linejoin="round"/><path d="M1277.2 1434 V1497" stroke="#f0a13e" stroke-width="2.4"/><path d="M1788 1433 V1496" stroke="#fff" stroke-width="5.6" fill="none"/><path d="M1788 1436 V1496" stroke="#f0a13e" stroke-width="2.5" fill="none"/><path d="M1785.2 1442.7 V1435 A2.8 4 0 0 1 1790.8 1435 V1442.7 Z M1785.2 1454.5 h5.6 v12 h-5.6 Z M1785.2 1477.5 h5.6 v12 h-5.6 Z" fill="#1b1f24"/><path d="M2407.6 1433 V1496" stroke="#fff" stroke-width="5.6" fill="none"/><path d="M2407.6 1436 V1496" stroke="#f0a13e" stroke-width="2.5" fill="none"/><path d="M2404.7999999999997 1442.7 V1435 A2.8 4 0 0 1 2410.4 1435 V1442.7 Z M2404.7999999999997 1454.5 h5.6 v12 h-5.6 Z M2404.7999999999997 1477.5 h5.6 v12 h-5.6 Z" fill="#1b1f24"/><path d="M1277 1540 V1531 H2660" stroke="#1f2328" stroke-width="2.2" fill="none"/><path d="M1436 1531 V1540" stroke="#1f2328" stroke-width="2.4" fill="none"/><path d="M1726.4 1531 V1540" stroke="#1f2328" stroke-width="2.4" fill="none"/><path d="M2027.7 1531 V1540" stroke="#1f2328" stroke-width="2.4" fill="none"/><path d="M2318 1531 V1540" stroke="#1f2328" stroke-width="2.4" fill="none"/><path d="M2618.5 1531 V1540" stroke="#1f2328" stroke-width="2.4" fill="none"/><circle cx="1296.6" cy="86" r="11.4" fill="#f0a13e"/><g stroke="#3c3f43" stroke-width="2.1" fill="none"><path d="M1451.7 86 H1471.7 M1461.7 76 V96"/></g><g fill="#3c3f43"><path d="M1448.9 86 l4.6 -4 v8 Z"/><path d="M1474.5 86 l-4.6 -4 v8 Z"/><path d="M1461.7 73.2 l-4 4.6 h8 Z"/><path d="M1461.7 98.8 l-4 -4.6 h8 Z"/></g><path d="M1307.7 1372.4 L1315.9 1365 V1379.8 Z" fill="#555"/><g fill="none" stroke="#8f8f8f" stroke-width="2.4"><rect x="1382.5" y="1358.2" width="29.7" height="29.4" rx="1.6"/><path d="M1382.5 1366.8 H1412.2"/></g><g fill="#8f8f8f"><rect x="1388.2" y="1354" width="4.9" height="6.8"/><rect x="1402.1" y="1354" width="4.9" height="6.8"/><rect x="1400" y="1375" width="9" height="9"/></g><g fill="none" stroke="#8f8f8f" stroke-width="2.4"><circle cx="1483.7" cy="1372.8" r="14.7"/><path d="M1482.3 1364 V1374 H1492.8"/></g><g fill="none" stroke="#505357"><path d="M1984.3 1354.4 V1390.6 H2020.4" stroke-width="1.5"/><path d="M1986 1371.6 C1992 1358 2003 1368 2013 1357.8" stroke-width="3"/><path d="M1984.5 1372 H2017" stroke-width="1.4"/><path d="M1986.5 1388.4 V1385.6 H1992.6 V1382.8 H1999 V1380 H2005.4 V1377.2 H2014.2" stroke-width="1.5"/></g><g fill="none" stroke="#505357" stroke-width="3"><rect x="2240.7" y="1368.2" width="21.4" height="17.8" rx="1.6"/><path d="M2245.4 1367 V1363 A6.4 6.4 0 0 1 2258.2 1363 V1364"/></g><circle cx="2251.4" cy="1377" r="2.9" fill="#505357"/><g fill="none" stroke="#505357" stroke-width="2.9"><path d="M2325.4 1372.5 A12 12 0 1 1 2328.9 1381.0"/><path d="M2337.0 1365.9 V1373.1 L2342.6 1376.5" stroke-width="2.2"/></g><path d="M2319.2000000000003 1372.3 H2331.0 L2325.1 1378.7 Z" fill="#505357"/><path d="M2034.6 1620.2 L2043.8 1611 L2053 1620.2 Z" fill="#9a9a9a"/><rect x="2084.2000000000003" y="1607.2" width="23.2" height="18" rx="1.5" fill="none" stroke="#4a4e54" stroke-width="2.2"/><g fill="#4a4e54"><path d="M2088.2000000000003 1616.2 l2.6 -2.2 v4.4 Z"/><path d="M2103.4 1616.2 l-2.6 -2.2 v4.4 Z"/><path d="M2095.8 1610.6000000000001 l-2.2 2.4 h4.4 Z"/><path d="M2095.8 1621.8 l-2.2 -2.4 h4.4 Z"/></g></svg>
<span class="t" style="left:1208.95px;top:122.95px;font-size:22.5px;color:#212529;letter-spacing:0.700px;">42.2</span>
<span class="t" style="left:1227.75px;top:180.95px;font-size:22.5px;color:#212529;letter-spacing:1.863px;">40</span>
<span class="t" style="left:1227.41px;top:450.25px;font-size:22.5px;color:#212529;letter-spacing:2.200px;">30</span>
<span class="t" style="left:1227.08px;top:719.95px;font-size:22.5px;color:#212529;letter-spacing:2.538px;">20</span>
<span class="t" style="left:1227.61px;top:988.45px;font-size:22.5px;color:#212529;letter-spacing:2.000px;">10</span>
<span class="t" style="left:1386.67px;top:1293.25px;font-size:22.5px;color:#212529;letter-spacing:1.166px;">23:00</span>
<span class="t" style="left:1605.25px;top:1293.25px;font-size:22.5px;color:#212529;transform:scaleX(0.9869);transform-origin:0 0;">Sat, 15</span>
<span class="t" style="left:1833.71px;top:1293.25px;font-size:22.5px;color:#212529;letter-spacing:1.081px;">01:00</span>
<span class="t" style="left:2057.01px;top:1293.25px;font-size:22.5px;color:#212529;letter-spacing:1.081px;">02:00</span>
<span class="t" style="left:2279.71px;top:1293.25px;font-size:22.5px;color:#212529;letter-spacing:1.081px;">03:00</span>
<span class="t" style="left:2502.71px;top:1293.25px;font-size:22.5px;color:#212529;letter-spacing:1.081px;">04:00</span>
<span class="t" style="left:1317.76px;top:74.55px;font-size:22.5px;color:#212529;transform:scaleX(0.9649);transform-origin:0 0;">BA:LEVEL.1</span>
<span class="t" style="left:1416.89px;top:1544.55px;font-size:22.5px;color:#212529;transform:scaleX(0.9518);transform-origin:0 0;">Sep</span>
<span class="t" style="left:1707.24px;top:1544.55px;font-size:22.5px;color:#212529;letter-spacing:1.163px;">Oct</span>
<span class="t" style="left:2005.40px;top:1544.55px;font-size:22.5px;color:#212529;letter-spacing:1.375px;">Nov</span>
<span class="t" style="left:2297.15px;top:1544.55px;font-size:22.5px;color:#212529;letter-spacing:0.506px;">Dec</span>
<span class="t" style="left:2591.32px;top:1544.55px;font-size:22.5px;color:#212529;letter-spacing:1.458px;">2022</span>
<span class="t" style="left:1295.34px;top:1598.38px;font-size:30.5px;color:#212529;transform:scaleX(0.9879);transform-origin:0 0;">1D</span>
<span class="t" style="left:1372.04px;top:1598.38px;font-size:30.5px;color:#212529;transform:scaleX(0.9894);transform-origin:0 0;">1W</span>
<span class="t" style="left:1456.46px;top:1598.38px;font-size:30.5px;color:#212529;letter-spacing:2.833px;">1M</span>
<span class="t" style="left:1539.38px;top:1598.38px;font-size:30.5px;color:#212529;letter-spacing:1.613px;">3M</span>
<span class="t" style="left:1621.12px;top:1598.38px;font-size:30.5px;color:#0b5cb9;letter-spacing:0.870px;">6M</span>
<span class="t" style="left:1701.98px;top:1598.38px;font-size:30.5px;color:#212529;transform:scaleX(0.9268);transform-origin:0 0;">1Y</span>
<span class="t" style="left:1776.85px;top:1598.38px;font-size:30.5px;color:#212529;transform:scaleX(0.8787);transform-origin:0 0;">ALL</span>
<span class="t" style="left:1903.12px;top:1598.38px;font-size:30.5px;color:#212529;transform:scaleX(0.9049);transform-origin:0 0;">CUSTOM</span>
<span class="t" style="left:2078.71px;top:1354.07px;font-size:33px;color:#212529;transform:scaleX(0.9760);transform-origin:0 0;">8 hours</span>
<svg width="2760" height="1800" viewBox="0 0 2760 1800"><g fill="#6f00ff"><rect x="1054.4" y="416.0" width="13.0" height="4.2"/><rect x="1077.8" y="416.0" width="25.2" height="4.2"/><rect x="1113.4" y="416.0" width="25.2" height="4.2"/><rect x="1149.0" y="416.0" width="13.0" height="4.2"/><rect x="1054.4" y="475.8" width="13.0" height="4.2"/><rect x="1077.8" y="475.8" width="25.2" height="4.2"/><rect x="1113.4" y="475.8" width="25.2" height="4.2"/><rect x="1149.0" y="475.8" width="13.0" height="4.2"/><rect x="1054.4" y="416.0" width="4.2" height="13.0"/><rect x="1054.4" y="435.4" width="4.2" height="25.2"/><rect x="1054.4" y="467.0" width="4.2" height="13.0"/><rect x="1157.8" y="416.0" width="4.2" height="13.0"/><rect x="1157.8" y="435.4" width="4.2" height="25.2"/><rect x="1157.8" y="467.0" width="4.2" height="13.0"/></g><g fill="#6f00ff"><rect x="946.0" y="596.4" width="13.0" height="4.2"/><rect x="969.4" y="596.4" width="25.2" height="4.2"/><rect x="1005.0" y="596.4" width="13.0" height="4.2"/><rect x="946.0" y="663.4" width="13.0" height="4.2"/><rect x="969.4" y="663.4" width="25.2" height="4.2"/><rect x="1005.0" y="663.4" width="13.0" height="4.2"/><rect x="946.0" y="596.4" width="4.2" height="13.0"/><rect x="946.0" y="619.4" width="4.2" height="25.2"/><rect x="946.0" y="654.6" width="4.2" height="13.0"/><rect x="1013.8" y="596.4" width="4.2" height="13.0"/><rect x="1013.8" y="619.4" width="4.2" height="25.2"/><rect x="1013.8" y="654.6" width="4.2" height="13.0"/></g><g fill="#6f00ff"><rect x="946.0" y="772.7" width="13.0" height="4.2"/><rect x="969.4" y="772.7" width="25.2" height="4.2"/><rect x="1005.0" y="772.7" width="13.0" height="4.2"/><rect x="946.0" y="839.0" width="13.0" height="4.2"/><rect x="969.4" y="839.0" width="25.2" height="4.2"/><rect x="1005.0" y="839.0" width="13.0" height="4.2"/><rect x="946.0" y="772.7" width="4.2" height="13.0"/><rect x="946.0" y="795.4" width="4.2" height="25.2"/><rect x="946.0" y="830.2" width="4.2" height="13.0"/><rect x="1013.8" y="772.7" width="4.2" height="13.0"/><rect x="1013.8" y="795.4" width="4.2" height="25.2"/><rect x="1013.8" y="830.2" width="4.2" height="13.0"/></g><g fill="#6f00ff"><rect x="946.0" y="998.0" width="13.0" height="4.2"/><rect x="966.4" y="998.0" width="25.2" height="4.2"/><rect x="999.0" y="998.0" width="13.0" height="4.2"/><rect x="946.0" y="1057.4" width="13.0" height="4.2"/><rect x="966.4" y="1057.4" width="25.2" height="4.2"/><rect x="999.0" y="1057.4" width="13.0" height="4.2"/><rect x="946.0" y="998.0" width="4.2" height="13.0"/><rect x="946.0" y="1017.2" width="4.2" height="25.2"/><rect x="946.0" y="1048.6" width="4.2" height="13.0"/><rect x="1007.8" y="998.0" width="4.2" height="13.0"/><rect x="1007.8" y="1017.2" width="4.2" height="25.2"/><rect x="1007.8" y="1048.6" width="4.2" height="13.0"/></g><g fill="#6f00ff"><rect x="394.3" y="1226.0" width="13.0" height="4.2"/><rect x="415.0" y="1226.0" width="25.2" height="4.2"/><rect x="447.8" y="1226.0" width="25.2" height="4.2"/><rect x="480.7" y="1226.0" width="25.2" height="4.2"/><rect x="513.6" y="1226.0" width="25.2" height="4.2"/><rect x="546.4" y="1226.0" width="25.2" height="4.2"/><rect x="579.3" y="1226.0" width="25.2" height="4.2"/><rect x="612.1" y="1226.0" width="25.2" height="4.2"/><rect x="645.0" y="1226.0" width="13.0" height="4.2"/><rect x="394.3" y="1285.4" width="13.0" height="4.2"/><rect x="415.0" y="1285.4" width="25.2" height="4.2"/><rect x="447.8" y="1285.4" width="25.2" height="4.2"/><rect x="480.7" y="1285.4" width="25.2" height="4.2"/><rect x="513.6" y="1285.4" width="25.2" height="4.2"/><rect x="546.4" y="1285.4" width="25.2" height="4.2"/><rect x="579.3" y="1285.4" width="25.2" height="4.2"/><rect x="612.1" y="1285.4" width="25.2" height="4.2"/><rect x="645.0" y="1285.4" width="13.0" height="4.2"/><rect x="394.3" y="1226.0" width="4.2" height="13.0"/><rect x="394.3" y="1245.2" width="4.2" height="25.2"/><rect x="394.3" y="1276.6" width="4.2" height="13.0"/><rect x="653.8" y="1226.0" width="4.2" height="13.0"/><rect x="653.8" y="1245.2" width="4.2" height="25.2"/><rect x="653.8" y="1276.6" width="4.2" height="13.0"/></g><g fill="#6f00ff"><rect x="242.3" y="1408.7" width="13.0" height="4.2"/><rect x="267.8" y="1408.7" width="25.2" height="4.2"/><rect x="305.5" y="1408.7" width="25.2" height="4.2"/><rect x="343.1" y="1408.7" width="25.2" height="4.2"/><rect x="380.8" y="1408.7" width="13.0" height="4.2"/><rect x="242.3" y="1467.6" width="13.0" height="4.2"/><rect x="267.8" y="1467.6" width="25.2" height="4.2"/><rect x="305.5" y="1467.6" width="25.2" height="4.2"/><rect x="343.1" y="1467.6" width="25.2" height="4.2"/><rect x="380.8" y="1467.6" width="13.0" height="4.2"/><rect x="242.3" y="1408.7" width="4.2" height="13.0"/><rect x="242.3" y="1427.7" width="4.2" height="25.2"/><rect x="242.3" y="1458.8" width="4.2" height="13.0"/><rect x="389.6" y="1408.7" width="4.2" height="13.0"/><rect x="389.6" y="1427.7" width="4.2" height="25.2"/><rect x="389.6" y="1458.8" width="4.2" height="13.0"/></g><g fill="none" stroke="#6f00ff" stroke-width="4.6" stroke-linecap="round" stroke-linejoin="round"><path d="M1404.0 448.6 L1162.5 448.6"/><path d="M1175.5 436.4 L1162.5 448.6 L1175.5 460.8"/></g><g fill="none" stroke="#6f00ff" stroke-width="4.6" stroke-linecap="round" stroke-linejoin="round"><path d="M1240.0 631.8 L1018.5 631.8"/><path d="M1031.5 619.6 L1018.5 631.8 L1031.5 644.0"/></g><g fill="none" stroke="#6f00ff" stroke-width="4.6" stroke-linecap="round" stroke-linejoin="round"><path d="M1254.0 632.3 L1019.0 807.3"/><path d="M1021.9 790.1 L1019.0 807.3 L1036.3 809.4"/></g><g fill="none" stroke="#6f00ff" stroke-width="4.6" stroke-linecap="round" stroke-linejoin="round"><path d="M1240.0 1030.0 L1012.5 1030.0"/><path d="M1025.5 1017.8 L1012.5 1030.0 L1025.5 1042.2"/></g><g fill="none" stroke="#6f00ff" stroke-width="4.6" stroke-linecap="round" stroke-linejoin="round"><path d="M948.0 1258.3 L658.5 1258.3"/><path d="M671.5 1246.1 L658.5 1258.3 L671.5 1270.5"/></g><g fill="none" stroke="#6f00ff" stroke-width="4.6" stroke-linecap="round" stroke-linejoin="round"><path d="M724.0 1440.0 L394.3 1440.0"/><path d="M407.3 1427.8 L394.3 1440.0 L407.3 1452.2"/></g></svg>
<div class="b" style="left:1402.0px;top:415.7px;width:660.0px;height:64.2px;background:#6f00ff;border-radius:11px;"></div>
<div class="b" style="left:1238.4px;top:596.3px;width:375.4px;height:63.6px;background:#6f00ff;border-radius:11px;"></div>
<div class="b" style="left:1238.4px;top:997.7px;width:375.4px;height:63.9px;background:#6f00ff;border-radius:11px;"></div>
<div class="b" style="left:946.0px;top:1226.0px;width:503.6px;height:55.4px;background:#fff;border:4.2px solid #6f00ff;border-radius:13px;"></div>
<div class="b" style="left:722.4px;top:1408.7px;width:379.2px;height:54.7px;background:#fff;border:4.2px solid #6f00ff;border-radius:13px;"></div>
<span class="t" style="left:1434.43px;top:432.67px;font-size:33px;color:#fff;font-weight:bold;transform:scaleX(0.8896);transform-origin:0 0;">Query (available only for Similarity search)</span>
<span class="t" style="left:1314.78px;top:611.57px;font-size:33px;color:#fff;font-weight:bold;transform:scaleX(0.8780);transform-origin:0 0;">Added as layers</span>
<span class="t" style="left:1295.62px;top:1012.97px;font-size:33px;color:#fff;font-weight:bold;transform:scaleX(0.8956);transform-origin:0 0;">Current base layer</span>
<span class="t" style="left:1029.34px;top:1242.27px;font-size:33px;color:#6f00ff;font-weight:bold;transform:scaleX(0.8817);transform-origin:0 0;">Click to set as base layer</span>
<span class="t" style="left:774.63px;top:1423.67px;font-size:33px;color:#6f00ff;font-weight:bold;transform:scaleX(0.8856);transform-origin:0 0;">Click to add as layer</span>
</div></div>
</body></html>
